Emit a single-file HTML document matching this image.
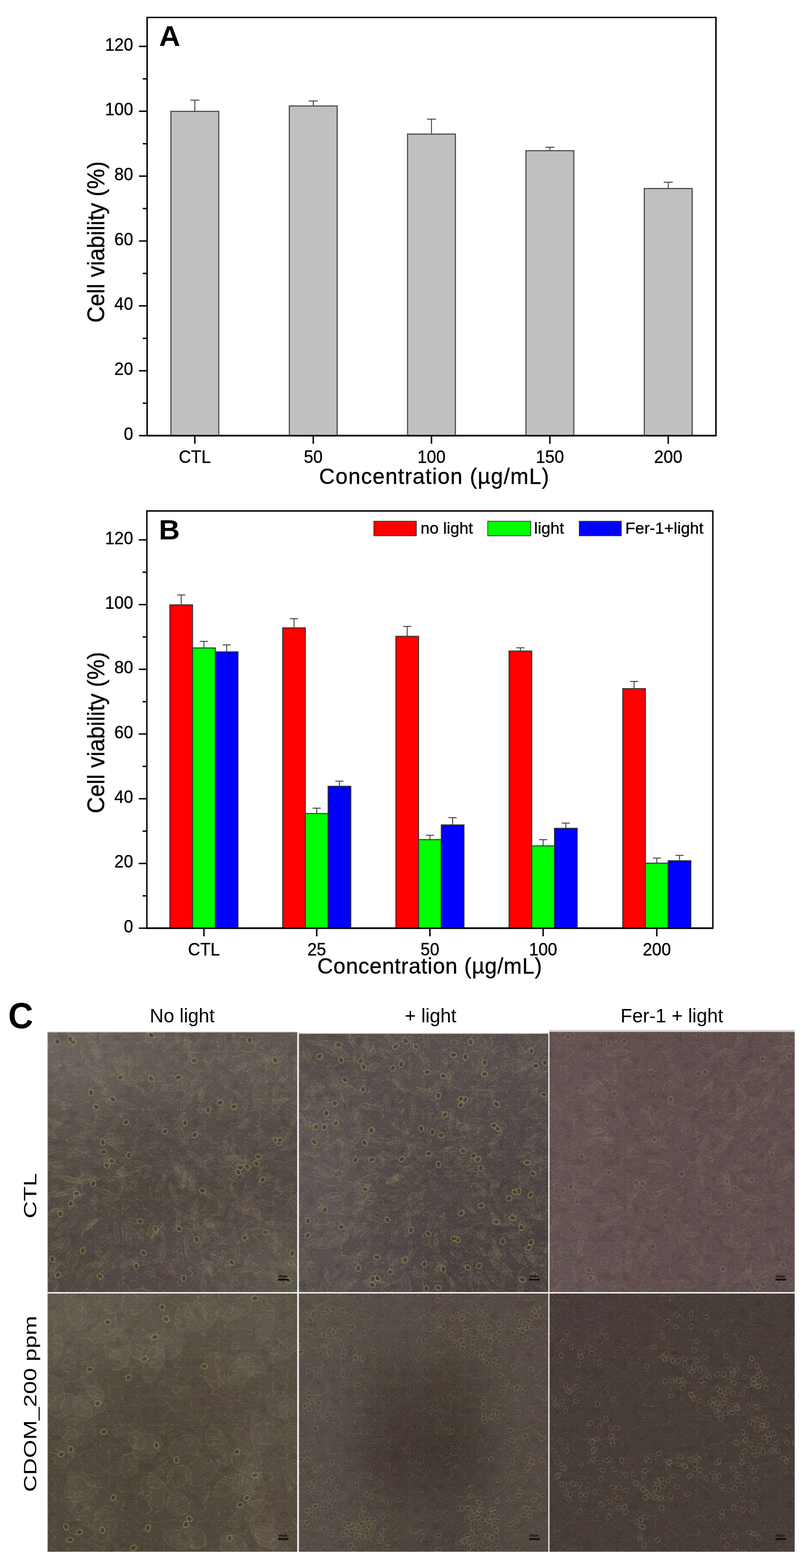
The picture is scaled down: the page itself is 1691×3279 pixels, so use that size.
<!DOCTYPE html>
<html><head><meta charset="utf-8"><title>Figure</title>
<style>
html,body{margin:0;padding:0;background:#fff;}
body{width:1691px;height:3279px;position:relative;overflow:hidden;font-family:"Liberation Sans", Arial, sans-serif;}
svg text{font-family:"Liberation Sans", Arial, sans-serif;fill:#000;}
.tk,.ttl,.lg{stroke:#000;stroke-width:0.45px;}
.tk{font-size:37px;}
.ttl{font-size:47.5px;}
.pl{font-size:57px;font-weight:bold;}
.lg{font-size:34px;}
.cl{font-size:40px;}
.rl{font-size:36.5px;}
</style></head>
<body>
<svg width="1691" height="3279" viewBox="0 0 1691 3279" style="position:absolute;left:0;top:0">
<rect x="307.5" y="36.5" width="1189" height="874.5" fill="none" stroke="#000" stroke-width="3"/>
<line x1="290.5" y1="911" x2="307.5" y2="911" stroke="#000" stroke-width="3"/>
<text transform="translate(278.3,919.7) scale(0.955,1)" text-anchor="end" class="tk">0</text>
<line x1="298.5" y1="843.16" x2="307.5" y2="843.16" stroke="#000" stroke-width="3"/>
<line x1="290.5" y1="775.33" x2="307.5" y2="775.33" stroke="#000" stroke-width="3"/>
<text transform="translate(278.3,784.03) scale(0.955,1)" text-anchor="end" class="tk">20</text>
<line x1="298.5" y1="707.5" x2="307.5" y2="707.5" stroke="#000" stroke-width="3"/>
<line x1="290.5" y1="639.66" x2="307.5" y2="639.66" stroke="#000" stroke-width="3"/>
<text transform="translate(278.3,648.36) scale(0.955,1)" text-anchor="end" class="tk">40</text>
<line x1="298.5" y1="571.83" x2="307.5" y2="571.83" stroke="#000" stroke-width="3"/>
<line x1="290.5" y1="503.99" x2="307.5" y2="503.99" stroke="#000" stroke-width="3"/>
<text transform="translate(278.3,512.69) scale(0.955,1)" text-anchor="end" class="tk">60</text>
<line x1="298.5" y1="436.16" x2="307.5" y2="436.16" stroke="#000" stroke-width="3"/>
<line x1="290.5" y1="368.32" x2="307.5" y2="368.32" stroke="#000" stroke-width="3"/>
<text transform="translate(278.3,377.02) scale(0.955,1)" text-anchor="end" class="tk">80</text>
<line x1="298.5" y1="300.49" x2="307.5" y2="300.49" stroke="#000" stroke-width="3"/>
<line x1="290.5" y1="232.65" x2="307.5" y2="232.65" stroke="#000" stroke-width="3"/>
<text transform="translate(278.3,241.35) scale(0.955,1)" text-anchor="end" class="tk">100</text>
<line x1="298.5" y1="164.82" x2="307.5" y2="164.82" stroke="#000" stroke-width="3"/>
<line x1="290.5" y1="96.98" x2="307.5" y2="96.98" stroke="#000" stroke-width="3"/>
<text transform="translate(278.3,105.68) scale(0.955,1)" text-anchor="end" class="tk">120</text>
<line x1="407.2" y1="209.4" x2="407.2" y2="232.9" stroke="#444" stroke-width="2"/>
<line x1="397.7" y1="209.4" x2="416.7" y2="209.4" stroke="#444" stroke-width="2"/>
<rect x="357.2" y="232.9" width="100" height="678.1" fill="#c0c0c0" stroke="#4c4c4c" stroke-width="2.4"/>
<line x1="407.2" y1="911" x2="407.2" y2="928" stroke="#000" stroke-width="3"/>
<text transform="translate(407.2,968.3) scale(0.955,1)" text-anchor="middle" class="tk">CTL</text>
<line x1="654.8" y1="211.2" x2="654.8" y2="221.6" stroke="#444" stroke-width="2"/>
<line x1="645.3" y1="211.2" x2="664.3" y2="211.2" stroke="#444" stroke-width="2"/>
<rect x="604.8" y="221.6" width="100" height="689.4" fill="#c0c0c0" stroke="#4c4c4c" stroke-width="2.4"/>
<line x1="654.8" y1="911" x2="654.8" y2="928" stroke="#000" stroke-width="3"/>
<text transform="translate(654.8,968.3) scale(0.955,1)" text-anchor="middle" class="tk">50</text>
<line x1="901.9" y1="249.2" x2="901.9" y2="280.4" stroke="#444" stroke-width="2"/>
<line x1="892.4" y1="249.2" x2="911.4" y2="249.2" stroke="#444" stroke-width="2"/>
<rect x="851.9" y="280.4" width="100" height="630.6" fill="#c0c0c0" stroke="#4c4c4c" stroke-width="2.4"/>
<line x1="901.9" y1="911" x2="901.9" y2="928" stroke="#000" stroke-width="3"/>
<text transform="translate(901.9,968.3) scale(0.955,1)" text-anchor="middle" class="tk">100</text>
<line x1="1149.4" y1="307.9" x2="1149.4" y2="315.1" stroke="#444" stroke-width="2"/>
<line x1="1139.9" y1="307.9" x2="1158.9" y2="307.9" stroke="#444" stroke-width="2"/>
<rect x="1099.4" y="315.1" width="100" height="595.9" fill="#c0c0c0" stroke="#4c4c4c" stroke-width="2.4"/>
<line x1="1149.4" y1="911" x2="1149.4" y2="928" stroke="#000" stroke-width="3"/>
<text transform="translate(1149.4,968.3) scale(0.955,1)" text-anchor="middle" class="tk">150</text>
<line x1="1396.8" y1="381" x2="1396.8" y2="394.2" stroke="#444" stroke-width="2"/>
<line x1="1387.3" y1="381" x2="1406.3" y2="381" stroke="#444" stroke-width="2"/>
<rect x="1346.8" y="394.2" width="100" height="516.8" fill="#c0c0c0" stroke="#4c4c4c" stroke-width="2.4"/>
<line x1="1396.8" y1="911" x2="1396.8" y2="928" stroke="#000" stroke-width="3"/>
<text transform="translate(1396.8,968.3) scale(0.955,1)" text-anchor="middle" class="tk">200</text>
<line x1="307.5" y1="911" x2="1496.5" y2="911" stroke="#000" stroke-width="3"/>
<text x="908.1" y="1011.5" text-anchor="middle" class="ttl" style="font-size:45.5px;letter-spacing:1.35px">Concentration (µg/mL)</text>
<text transform="translate(218,506) rotate(-90) scale(0.95,1)" text-anchor="middle" class="ttl" style="font-size:50px">Cell viability (%)</text>
<text transform="translate(332.5,95.7) scale(1.05,1)" class="pl" style="font-size:58.5px">A</text>
<rect x="307" y="1068.5" width="1183" height="872.5" fill="none" stroke="#000" stroke-width="3"/>
<line x1="290" y1="1941" x2="307" y2="1941" stroke="#000" stroke-width="3"/>
<text transform="translate(278.3,1949.7) scale(0.955,1)" text-anchor="end" class="tk">0</text>
<line x1="298" y1="1873.34" x2="307" y2="1873.34" stroke="#000" stroke-width="3"/>
<line x1="290" y1="1805.67" x2="307" y2="1805.67" stroke="#000" stroke-width="3"/>
<text transform="translate(278.3,1814.37) scale(0.955,1)" text-anchor="end" class="tk">20</text>
<line x1="298" y1="1738.01" x2="307" y2="1738.01" stroke="#000" stroke-width="3"/>
<line x1="290" y1="1670.34" x2="307" y2="1670.34" stroke="#000" stroke-width="3"/>
<text transform="translate(278.3,1679.04) scale(0.955,1)" text-anchor="end" class="tk">40</text>
<line x1="298" y1="1602.67" x2="307" y2="1602.67" stroke="#000" stroke-width="3"/>
<line x1="290" y1="1535.01" x2="307" y2="1535.01" stroke="#000" stroke-width="3"/>
<text transform="translate(278.3,1543.71) scale(0.955,1)" text-anchor="end" class="tk">60</text>
<line x1="298" y1="1467.35" x2="307" y2="1467.35" stroke="#000" stroke-width="3"/>
<line x1="290" y1="1399.68" x2="307" y2="1399.68" stroke="#000" stroke-width="3"/>
<text transform="translate(278.3,1408.38) scale(0.955,1)" text-anchor="end" class="tk">80</text>
<line x1="298" y1="1332.01" x2="307" y2="1332.01" stroke="#000" stroke-width="3"/>
<line x1="290" y1="1264.35" x2="307" y2="1264.35" stroke="#000" stroke-width="3"/>
<text transform="translate(278.3,1273.05) scale(0.955,1)" text-anchor="end" class="tk">100</text>
<line x1="298" y1="1196.68" x2="307" y2="1196.68" stroke="#000" stroke-width="3"/>
<line x1="290" y1="1129.02" x2="307" y2="1129.02" stroke="#000" stroke-width="3"/>
<text transform="translate(278.3,1137.72) scale(0.955,1)" text-anchor="end" class="tk">120</text>
<line x1="378.75" y1="1244.2" x2="378.75" y2="1264.8" stroke="#444" stroke-width="2"/>
<line x1="370.25" y1="1244.2" x2="387.25" y2="1244.2" stroke="#444" stroke-width="2"/>
<rect x="355" y="1264.8" width="47.5" height="676.2" fill="#ff0000" stroke="#333" stroke-width="2"/>
<line x1="426.25" y1="1341.3" x2="426.25" y2="1354.9" stroke="#444" stroke-width="2"/>
<line x1="417.75" y1="1341.3" x2="434.75" y2="1341.3" stroke="#444" stroke-width="2"/>
<rect x="402.5" y="1354.9" width="47.5" height="586.1" fill="#00ff00" stroke="#333" stroke-width="2"/>
<line x1="473.75" y1="1348.6" x2="473.75" y2="1363.1" stroke="#444" stroke-width="2"/>
<line x1="465.25" y1="1348.6" x2="482.25" y2="1348.6" stroke="#444" stroke-width="2"/>
<rect x="450" y="1363.1" width="47.5" height="577.9" fill="#0000ff" stroke="#333" stroke-width="2"/>
<line x1="426.25" y1="1941" x2="426.25" y2="1958" stroke="#000" stroke-width="3"/>
<text transform="translate(426.25,1998.3) scale(0.955,1)" text-anchor="middle" class="tk">CTL</text>
<line x1="614.55" y1="1293.9" x2="614.55" y2="1312.9" stroke="#444" stroke-width="2"/>
<line x1="606.05" y1="1293.9" x2="623.05" y2="1293.9" stroke="#444" stroke-width="2"/>
<rect x="590.8" y="1312.9" width="47.5" height="628.1" fill="#ff0000" stroke="#333" stroke-width="2"/>
<line x1="662.05" y1="1690" x2="662.05" y2="1701.2" stroke="#444" stroke-width="2"/>
<line x1="653.55" y1="1690" x2="670.55" y2="1690" stroke="#444" stroke-width="2"/>
<rect x="638.3" y="1701.2" width="47.5" height="239.8" fill="#00ff00" stroke="#333" stroke-width="2"/>
<line x1="709.55" y1="1633.6" x2="709.55" y2="1644.2" stroke="#444" stroke-width="2"/>
<line x1="701.05" y1="1633.6" x2="718.05" y2="1633.6" stroke="#444" stroke-width="2"/>
<rect x="685.8" y="1644.2" width="47.5" height="296.8" fill="#0000ff" stroke="#333" stroke-width="2"/>
<line x1="662.05" y1="1941" x2="662.05" y2="1958" stroke="#000" stroke-width="3"/>
<text transform="translate(662.05,1998.3) scale(0.955,1)" text-anchor="middle" class="tk">25</text>
<line x1="851.15" y1="1310" x2="851.15" y2="1330.6" stroke="#444" stroke-width="2"/>
<line x1="842.65" y1="1310" x2="859.65" y2="1310" stroke="#444" stroke-width="2"/>
<rect x="827.4" y="1330.6" width="47.5" height="610.4" fill="#ff0000" stroke="#333" stroke-width="2"/>
<line x1="898.65" y1="1746.7" x2="898.65" y2="1755.8" stroke="#444" stroke-width="2"/>
<line x1="890.15" y1="1746.7" x2="907.15" y2="1746.7" stroke="#444" stroke-width="2"/>
<rect x="874.9" y="1755.8" width="47.5" height="185.2" fill="#00ff00" stroke="#333" stroke-width="2"/>
<line x1="946.15" y1="1710" x2="946.15" y2="1725" stroke="#444" stroke-width="2"/>
<line x1="937.65" y1="1710" x2="954.65" y2="1710" stroke="#444" stroke-width="2"/>
<rect x="922.4" y="1725" width="47.5" height="216" fill="#0000ff" stroke="#333" stroke-width="2"/>
<line x1="898.65" y1="1941" x2="898.65" y2="1958" stroke="#000" stroke-width="3"/>
<text transform="translate(898.65,1998.3) scale(0.955,1)" text-anchor="middle" class="tk">50</text>
<line x1="1087.75" y1="1354.6" x2="1087.75" y2="1361.4" stroke="#444" stroke-width="2"/>
<line x1="1079.25" y1="1354.6" x2="1096.25" y2="1354.6" stroke="#444" stroke-width="2"/>
<rect x="1064" y="1361.4" width="47.5" height="579.6" fill="#ff0000" stroke="#333" stroke-width="2"/>
<line x1="1135.25" y1="1755.9" x2="1135.25" y2="1768.9" stroke="#444" stroke-width="2"/>
<line x1="1126.75" y1="1755.9" x2="1143.75" y2="1755.9" stroke="#444" stroke-width="2"/>
<rect x="1111.5" y="1768.9" width="47.5" height="172.1" fill="#00ff00" stroke="#333" stroke-width="2"/>
<line x1="1182.75" y1="1721.3" x2="1182.75" y2="1732.1" stroke="#444" stroke-width="2"/>
<line x1="1174.25" y1="1721.3" x2="1191.25" y2="1721.3" stroke="#444" stroke-width="2"/>
<rect x="1159" y="1732.1" width="47.5" height="208.9" fill="#0000ff" stroke="#333" stroke-width="2"/>
<line x1="1135.25" y1="1941" x2="1135.25" y2="1958" stroke="#000" stroke-width="3"/>
<text transform="translate(1135.25,1998.3) scale(0.955,1)" text-anchor="middle" class="tk">100</text>
<line x1="1325.35" y1="1425" x2="1325.35" y2="1440" stroke="#444" stroke-width="2"/>
<line x1="1316.85" y1="1425" x2="1333.85" y2="1425" stroke="#444" stroke-width="2"/>
<rect x="1301.6" y="1440" width="47.5" height="501" fill="#ff0000" stroke="#333" stroke-width="2"/>
<line x1="1372.85" y1="1794.5" x2="1372.85" y2="1805" stroke="#444" stroke-width="2"/>
<line x1="1364.35" y1="1794.5" x2="1381.35" y2="1794.5" stroke="#444" stroke-width="2"/>
<rect x="1349.1" y="1805" width="47.5" height="136" fill="#00ff00" stroke="#333" stroke-width="2"/>
<line x1="1420.35" y1="1788.7" x2="1420.35" y2="1799.9" stroke="#444" stroke-width="2"/>
<line x1="1411.85" y1="1788.7" x2="1428.85" y2="1788.7" stroke="#444" stroke-width="2"/>
<rect x="1396.6" y="1799.9" width="47.5" height="141.1" fill="#0000ff" stroke="#333" stroke-width="2"/>
<line x1="1372.85" y1="1941" x2="1372.85" y2="1958" stroke="#000" stroke-width="3"/>
<text transform="translate(1372.85,1998.3) scale(0.955,1)" text-anchor="middle" class="tk">200</text>
<line x1="307" y1="1941" x2="1490" y2="1941" stroke="#000" stroke-width="3"/>
<text x="898.4" y="2036" text-anchor="middle" class="ttl" style="font-size:45.5px;letter-spacing:0.8px">Concentration (µg/mL)</text>
<text transform="translate(217.5,1532) rotate(-90) scale(0.95,1)" text-anchor="middle" class="ttl" style="font-size:50px">Cell viability (%)</text>
<text transform="translate(332,1128.1) scale(1.05,1)" class="pl" style="font-size:58px">B</text>
<rect x="781.4" y="1090" width="88.9" height="30.5" fill="#ff0000" stroke="#333" stroke-width="1.5"/>
<text x="879" y="1116.2" class="lg">no light</text>
<rect x="1019.4" y="1090" width="90" height="30.5" fill="#00ff00" stroke="#333" stroke-width="1.5"/>
<text x="1116.5" y="1116.2" class="lg">light</text>
<rect x="1210.8" y="1090" width="88" height="30.5" fill="#0000ff" stroke="#333" stroke-width="1.5"/>
<text x="1307" y="1116.2" class="lg">Fer-1+light</text>
<defs><filter id="lines" x="0" y="0" width="1" height="1" color-interpolation-filters="sRGB"><feTurbulence type="turbulence" baseFrequency="0.035 0.05" numOctaves="3" seed="7"/><feColorMatrix type="matrix" values="0 0 0 0 0.78 0 0 0 0 0.74 0 0 0 0 0.5 -7 0 0 0 1.15"/></filter><filter id="dark" x="0" y="0" width="1" height="1" color-interpolation-filters="sRGB"><feTurbulence type="fractalNoise" baseFrequency="0.05" numOctaves="3" seed="11"/><feColorMatrix type="matrix" values="0 0 0 0 0.15 0 0 0 0 0.13 0 0 0 0 0.12 4 0 0 0 -2.2"/></filter><g id="cb"><ellipse rx="5" ry="6.5" fill="#3a342e" fill-opacity="0.5" stroke="#aaa262" stroke-opacity="0.5" stroke-width="2.2"/></g><g id="cs"><ellipse rx="4" ry="6" fill="#3a322e" fill-opacity="0.22" stroke="#a09462" stroke-opacity="0.3" stroke-width="1.7"/></g><g id="cf"><ellipse rx="5" ry="6" fill="#4a3c42" fill-opacity="0.3" stroke="#a89a70" stroke-opacity="0.35" stroke-width="1.8"/></g><filter id="grain" filterUnits="objectBoundingBox" x="0" y="0" width="1" height="1" color-interpolation-filters="sRGB"><feTurbulence type="fractalNoise" baseFrequency="0.3" numOctaves="2" seed="5" result="n"/><feColorMatrix in="n" type="matrix" values="0.6 0 0 0.4 0 0 0.6 0 0.4 0 0 0 0.6 0.4 0 0 0 0 0 1" result="n2"/><feComposite in="SourceGraphic" in2="n2" operator="arithmetic" k1="0" k2="1" k3="0.2" k4="-0.1"/></filter><filter id="soft" x="-0.05" y="-0.05" width="1.1" height="1.1"><feGaussianBlur stdDeviation="0.7"/></filter><filter id="bl" filterUnits="userSpaceOnUse" x="0" y="2000" width="1691" height="1279"><feGaussianBlur stdDeviation="42"/></filter><clipPath id="cp0"><rect x="98" y="2158" width="523" height="544"/></clipPath><clipPath id="cp1"><rect x="625" y="2160" width="521" height="542"/></clipPath><clipPath id="cp2"><rect x="1148" y="2155.5" width="513" height="546.5"/></clipPath><clipPath id="cp3"><rect x="98" y="2705" width="523" height="539.5"/></clipPath><clipPath id="cp4"><rect x="625" y="2705" width="521" height="539.5"/></clipPath><clipPath id="cp5"><rect x="1148" y="2705" width="513" height="539.5"/></clipPath></defs>
<g clip-path="url(#cp0)"><g filter="url(#grain)"><g filter="url(#bl)"><rect x="8.0" y="2068.0" width="221.2" height="226.5" fill="#6b635d"/><rect x="228.8" y="2068.0" width="131.2" height="226.5" fill="#655d57"/><rect x="359.5" y="2068.0" width="131.2" height="226.5" fill="#615953"/><rect x="490.2" y="2068.0" width="221.2" height="226.5" fill="#605852"/><rect x="8.0" y="2294.0" width="221.2" height="136.5" fill="#5a524c"/><rect x="228.8" y="2294.0" width="131.2" height="136.5" fill="#544c46"/><rect x="359.5" y="2294.0" width="131.2" height="136.5" fill="#564e48"/><rect x="490.2" y="2294.0" width="221.2" height="136.5" fill="#554d47"/><rect x="8.0" y="2430.0" width="221.2" height="136.5" fill="#534b45"/><rect x="228.8" y="2430.0" width="131.2" height="136.5" fill="#4f4741"/><rect x="359.5" y="2430.0" width="131.2" height="136.5" fill="#514943"/><rect x="490.2" y="2430.0" width="221.2" height="136.5" fill="#524a44"/><rect x="8.0" y="2566.0" width="221.2" height="226.5" fill="#514943"/><rect x="228.8" y="2566.0" width="131.2" height="226.5" fill="#524a44"/><rect x="359.5" y="2566.0" width="131.2" height="226.5" fill="#564e48"/><rect x="490.2" y="2566.0" width="221.2" height="226.5" fill="#5c544e"/></g><rect x="98" y="2158" width="523" height="544" filter="url(#lines)" opacity="0.18"/><g fill="#d0c8a0" fill-opacity="0.035" stroke="#b8ae7c" stroke-width="1.5" stroke-opacity="0.15" filter="url(#soft)"><ellipse cx="174" cy="2405" rx="5" ry="17" transform="rotate(105 174 2405)"/><ellipse cx="516" cy="2448" rx="3" ry="17" transform="rotate(42 516 2448)"/><ellipse cx="123" cy="2666" rx="4" ry="21" transform="rotate(75 123 2666)"/><ellipse cx="205" cy="2255" rx="4" ry="16" transform="rotate(128 205 2255)"/><ellipse cx="426" cy="2682" rx="5" ry="23" transform="rotate(7 426 2682)"/><ellipse cx="526" cy="2245" rx="5" ry="13" transform="rotate(127 526 2245)"/><ellipse cx="101" cy="2373" rx="4" ry="22" transform="rotate(109 101 2373)"/><ellipse cx="576" cy="2287" rx="4" ry="19" transform="rotate(12 576 2287)"/><ellipse cx="570" cy="2227" rx="5" ry="20" transform="rotate(139 570 2227)"/><ellipse cx="503" cy="2434" rx="4" ry="19" transform="rotate(61 503 2434)"/><ellipse cx="374" cy="2345" rx="4" ry="21" transform="rotate(30 374 2345)"/><ellipse cx="524" cy="2642" rx="5" ry="14" transform="rotate(116 524 2642)"/><ellipse cx="541" cy="2653" rx="5" ry="17" transform="rotate(128 541 2653)"/><ellipse cx="403" cy="2238" rx="5" ry="22" transform="rotate(134 403 2238)"/><ellipse cx="184" cy="2568" rx="3" ry="19" transform="rotate(47 184 2568)"/><ellipse cx="213" cy="2327" rx="5" ry="19" transform="rotate(108 213 2327)"/><ellipse cx="490" cy="2467" rx="3" ry="14" transform="rotate(103 490 2467)"/><ellipse cx="373" cy="2550" rx="4" ry="16" transform="rotate(179 373 2550)"/><ellipse cx="588" cy="2376" rx="5" ry="17" transform="rotate(66 588 2376)"/><ellipse cx="383" cy="2539" rx="3" ry="21" transform="rotate(121 383 2539)"/><ellipse cx="555" cy="2184" rx="3" ry="13" transform="rotate(47 555 2184)"/><ellipse cx="433" cy="2225" rx="3" ry="23" transform="rotate(45 433 2225)"/><ellipse cx="308" cy="2452" rx="4" ry="14" transform="rotate(35 308 2452)"/><ellipse cx="401" cy="2295" rx="3" ry="14" transform="rotate(22 401 2295)"/><ellipse cx="314" cy="2664" rx="4" ry="14" transform="rotate(111 314 2664)"/><ellipse cx="470" cy="2262" rx="6" ry="16" transform="rotate(156 470 2262)"/><ellipse cx="240" cy="2306" rx="6" ry="18" transform="rotate(109 240 2306)"/><ellipse cx="219" cy="2163" rx="3" ry="15" transform="rotate(50 219 2163)"/><ellipse cx="434" cy="2499" rx="4" ry="20" transform="rotate(172 434 2499)"/><ellipse cx="330" cy="2554" rx="4" ry="24" transform="rotate(141 330 2554)"/><ellipse cx="110" cy="2494" rx="3" ry="23" transform="rotate(38 110 2494)"/><ellipse cx="100" cy="2558" rx="5" ry="18" transform="rotate(114 100 2558)"/><ellipse cx="189" cy="2366" rx="3" ry="22" transform="rotate(88 189 2366)"/><ellipse cx="385" cy="2305" rx="5" ry="19" transform="rotate(20 385 2305)"/><ellipse cx="169" cy="2476" rx="4" ry="22" transform="rotate(62 169 2476)"/><ellipse cx="401" cy="2279" rx="4" ry="17" transform="rotate(7 401 2279)"/><ellipse cx="468" cy="2626" rx="4" ry="11" transform="rotate(160 468 2626)"/><ellipse cx="179" cy="2216" rx="3" ry="19" transform="rotate(145 179 2216)"/><ellipse cx="148" cy="2466" rx="5" ry="19" transform="rotate(99 148 2466)"/><ellipse cx="187" cy="2675" rx="5" ry="16" transform="rotate(31 187 2675)"/><ellipse cx="563" cy="2215" rx="3" ry="23" transform="rotate(77 563 2215)"/><ellipse cx="508" cy="2656" rx="4" ry="21" transform="rotate(88 508 2656)"/><ellipse cx="506" cy="2347" rx="5" ry="18" transform="rotate(66 506 2347)"/><ellipse cx="163" cy="2501" rx="3" ry="17" transform="rotate(71 163 2501)"/><ellipse cx="365" cy="2269" rx="6" ry="19" transform="rotate(74 365 2269)"/><ellipse cx="113" cy="2444" rx="6" ry="21" transform="rotate(109 113 2444)"/><ellipse cx="458" cy="2180" rx="6" ry="11" transform="rotate(179 458 2180)"/><ellipse cx="214" cy="2637" rx="3" ry="15" transform="rotate(23 214 2637)"/><ellipse cx="258" cy="2638" rx="4" ry="12" transform="rotate(179 258 2638)"/><ellipse cx="278" cy="2575" rx="5" ry="23" transform="rotate(133 278 2575)"/><ellipse cx="471" cy="2203" rx="4" ry="20" transform="rotate(17 471 2203)"/><ellipse cx="330" cy="2570" rx="3" ry="23" transform="rotate(34 330 2570)"/><ellipse cx="183" cy="2562" rx="5" ry="24" transform="rotate(59 183 2562)"/><ellipse cx="102" cy="2428" rx="4" ry="16" transform="rotate(82 102 2428)"/><ellipse cx="200" cy="2256" rx="4" ry="23" transform="rotate(135 200 2256)"/><ellipse cx="594" cy="2299" rx="3" ry="14" transform="rotate(85 594 2299)"/><ellipse cx="546" cy="2254" rx="4" ry="13" transform="rotate(39 546 2254)"/><ellipse cx="420" cy="2359" rx="5" ry="18" transform="rotate(28 420 2359)"/><ellipse cx="309" cy="2170" rx="4" ry="24" transform="rotate(174 309 2170)"/><ellipse cx="511" cy="2351" rx="6" ry="14" transform="rotate(54 511 2351)"/><ellipse cx="402" cy="2471" rx="4" ry="15" transform="rotate(129 402 2471)"/><ellipse cx="579" cy="2559" rx="4" ry="21" transform="rotate(92 579 2559)"/><ellipse cx="421" cy="2292" rx="4" ry="12" transform="rotate(8 421 2292)"/><ellipse cx="140" cy="2493" rx="5" ry="22" transform="rotate(74 140 2493)"/><ellipse cx="213" cy="2674" rx="5" ry="17" transform="rotate(4 213 2674)"/><ellipse cx="459" cy="2643" rx="5" ry="18" transform="rotate(21 459 2643)"/><ellipse cx="549" cy="2564" rx="4" ry="12" transform="rotate(57 549 2564)"/><ellipse cx="602" cy="2671" rx="5" ry="21" transform="rotate(24 602 2671)"/><ellipse cx="462" cy="2212" rx="6" ry="17" transform="rotate(39 462 2212)"/><ellipse cx="243" cy="2577" rx="5" ry="22" transform="rotate(171 243 2577)"/><ellipse cx="120" cy="2530" rx="3" ry="17" transform="rotate(86 120 2530)"/><ellipse cx="440" cy="2501" rx="5" ry="15" transform="rotate(120 440 2501)"/><ellipse cx="470" cy="2696" rx="6" ry="13" transform="rotate(122 470 2696)"/><ellipse cx="392" cy="2615" rx="5" ry="21" transform="rotate(169 392 2615)"/><ellipse cx="454" cy="2403" rx="4" ry="17" transform="rotate(76 454 2403)"/><ellipse cx="473" cy="2314" rx="4" ry="17" transform="rotate(44 473 2314)"/><ellipse cx="431" cy="2446" rx="4" ry="19" transform="rotate(130 431 2446)"/><ellipse cx="302" cy="2172" rx="4" ry="12" transform="rotate(139 302 2172)"/><ellipse cx="432" cy="2649" rx="3" ry="22" transform="rotate(152 432 2649)"/><ellipse cx="497" cy="2289" rx="4" ry="13" transform="rotate(137 497 2289)"/><ellipse cx="260" cy="2443" rx="5" ry="20" transform="rotate(56 260 2443)"/><ellipse cx="159" cy="2468" rx="5" ry="11" transform="rotate(102 159 2468)"/><ellipse cx="489" cy="2169" rx="3" ry="12" transform="rotate(175 489 2169)"/><ellipse cx="448" cy="2303" rx="5" ry="13" transform="rotate(50 448 2303)"/><ellipse cx="420" cy="2667" rx="6" ry="16" transform="rotate(166 420 2667)"/><ellipse cx="244" cy="2388" rx="6" ry="16" transform="rotate(77 244 2388)"/><ellipse cx="250" cy="2453" rx="5" ry="20" transform="rotate(39 250 2453)"/><ellipse cx="313" cy="2396" rx="6" ry="17" transform="rotate(81 313 2396)"/><ellipse cx="496" cy="2353" rx="5" ry="16" transform="rotate(95 496 2353)"/><ellipse cx="208" cy="2246" rx="3" ry="20" transform="rotate(143 208 2246)"/><ellipse cx="374" cy="2602" rx="5" ry="23" transform="rotate(33 374 2602)"/><ellipse cx="576" cy="2604" rx="6" ry="16" transform="rotate(85 576 2604)"/><ellipse cx="619" cy="2644" rx="5" ry="18" transform="rotate(156 619 2644)"/><ellipse cx="369" cy="2665" rx="4" ry="19" transform="rotate(115 369 2665)"/><ellipse cx="586" cy="2302" rx="4" ry="18" transform="rotate(77 586 2302)"/><ellipse cx="220" cy="2290" rx="3" ry="17" transform="rotate(160 220 2290)"/><ellipse cx="172" cy="2350" rx="5" ry="14" transform="rotate(136 172 2350)"/><ellipse cx="621" cy="2313" rx="6" ry="15" transform="rotate(110 621 2313)"/><ellipse cx="392" cy="2479" rx="5" ry="19" transform="rotate(119 392 2479)"/><ellipse cx="391" cy="2420" rx="4" ry="16" transform="rotate(58 391 2420)"/><ellipse cx="482" cy="2544" rx="6" ry="15" transform="rotate(9 482 2544)"/><ellipse cx="243" cy="2700" rx="4" ry="19" transform="rotate(22 243 2700)"/><ellipse cx="552" cy="2226" rx="4" ry="12" transform="rotate(72 552 2226)"/><ellipse cx="471" cy="2458" rx="4" ry="19" transform="rotate(131 471 2458)"/><ellipse cx="258" cy="2373" rx="4" ry="19" transform="rotate(93 258 2373)"/><ellipse cx="385" cy="2467" rx="3" ry="21" transform="rotate(9 385 2467)"/><ellipse cx="573" cy="2196" rx="5" ry="11" transform="rotate(40 573 2196)"/><ellipse cx="116" cy="2454" rx="5" ry="12" transform="rotate(39 116 2454)"/><ellipse cx="504" cy="2211" rx="5" ry="22" transform="rotate(82 504 2211)"/><ellipse cx="251" cy="2491" rx="3" ry="21" transform="rotate(22 251 2491)"/><ellipse cx="193" cy="2185" rx="5" ry="23" transform="rotate(147 193 2185)"/><ellipse cx="381" cy="2456" rx="5" ry="21" transform="rotate(129 381 2456)"/><ellipse cx="359" cy="2186" rx="4" ry="20" transform="rotate(56 359 2186)"/><ellipse cx="229" cy="2285" rx="3" ry="16" transform="rotate(133 229 2285)"/><ellipse cx="394" cy="2213" rx="3" ry="22" transform="rotate(23 394 2213)"/><ellipse cx="182" cy="2651" rx="5" ry="15" transform="rotate(71 182 2651)"/><ellipse cx="135" cy="2501" rx="6" ry="22" transform="rotate(102 135 2501)"/><ellipse cx="469" cy="2476" rx="5" ry="21" transform="rotate(124 469 2476)"/><ellipse cx="556" cy="2211" rx="5" ry="15" transform="rotate(118 556 2211)"/><ellipse cx="125" cy="2345" rx="3" ry="20" transform="rotate(52 125 2345)"/><ellipse cx="409" cy="2556" rx="5" ry="21" transform="rotate(179 409 2556)"/><ellipse cx="390" cy="2192" rx="6" ry="18" transform="rotate(165 390 2192)"/><ellipse cx="341" cy="2622" rx="5" ry="20" transform="rotate(12 341 2622)"/><ellipse cx="375" cy="2462" rx="5" ry="22" transform="rotate(160 375 2462)"/><ellipse cx="437" cy="2557" rx="5" ry="12" transform="rotate(128 437 2557)"/><ellipse cx="186" cy="2469" rx="4" ry="23" transform="rotate(76 186 2469)"/><ellipse cx="255" cy="2425" rx="4" ry="20" transform="rotate(118 255 2425)"/><ellipse cx="483" cy="2403" rx="3" ry="24" transform="rotate(140 483 2403)"/><ellipse cx="117" cy="2607" rx="4" ry="17" transform="rotate(74 117 2607)"/><ellipse cx="406" cy="2526" rx="5" ry="12" transform="rotate(5 406 2526)"/><ellipse cx="292" cy="2261" rx="6" ry="14" transform="rotate(21 292 2261)"/><ellipse cx="456" cy="2441" rx="4" ry="13" transform="rotate(88 456 2441)"/><ellipse cx="414" cy="2642" rx="6" ry="14" transform="rotate(123 414 2642)"/><ellipse cx="282" cy="2638" rx="3" ry="11" transform="rotate(22 282 2638)"/><ellipse cx="445" cy="2420" rx="4" ry="20" transform="rotate(121 445 2420)"/><ellipse cx="330" cy="2500" rx="4" ry="12" transform="rotate(177 330 2500)"/><ellipse cx="574" cy="2616" rx="5" ry="20" transform="rotate(141 574 2616)"/><ellipse cx="333" cy="2620" rx="5" ry="22" transform="rotate(22 333 2620)"/><ellipse cx="576" cy="2598" rx="3" ry="23" transform="rotate(178 576 2598)"/><ellipse cx="529" cy="2488" rx="4" ry="20" transform="rotate(110 529 2488)"/><ellipse cx="253" cy="2533" rx="4" ry="21" transform="rotate(55 253 2533)"/><ellipse cx="192" cy="2349" rx="5" ry="18" transform="rotate(113 192 2349)"/><ellipse cx="235" cy="2376" rx="6" ry="14" transform="rotate(86 235 2376)"/><ellipse cx="267" cy="2642" rx="4" ry="19" transform="rotate(55 267 2642)"/><ellipse cx="552" cy="2213" rx="4" ry="12" transform="rotate(50 552 2213)"/><ellipse cx="222" cy="2656" rx="6" ry="20" transform="rotate(49 222 2656)"/><ellipse cx="368" cy="2564" rx="5" ry="13" transform="rotate(24 368 2564)"/><ellipse cx="297" cy="2444" rx="5" ry="14" transform="rotate(69 297 2444)"/><ellipse cx="313" cy="2249" rx="4" ry="15" transform="rotate(125 313 2249)"/><ellipse cx="413" cy="2261" rx="6" ry="15" transform="rotate(66 413 2261)"/><ellipse cx="256" cy="2332" rx="4" ry="16" transform="rotate(97 256 2332)"/><ellipse cx="200" cy="2193" rx="6" ry="22" transform="rotate(157 200 2193)"/><ellipse cx="487" cy="2422" rx="3" ry="23" transform="rotate(104 487 2422)"/><ellipse cx="382" cy="2452" rx="5" ry="20" transform="rotate(131 382 2452)"/><ellipse cx="445" cy="2561" rx="5" ry="22" transform="rotate(86 445 2561)"/><ellipse cx="503" cy="2228" rx="4" ry="20" transform="rotate(30 503 2228)"/><ellipse cx="472" cy="2399" rx="4" ry="14" transform="rotate(14 472 2399)"/><ellipse cx="257" cy="2238" rx="5" ry="19" transform="rotate(112 257 2238)"/><ellipse cx="614" cy="2446" rx="5" ry="13" transform="rotate(95 614 2446)"/><ellipse cx="167" cy="2411" rx="5" ry="15" transform="rotate(112 167 2411)"/><ellipse cx="240" cy="2186" rx="5" ry="12" transform="rotate(35 240 2186)"/><ellipse cx="594" cy="2487" rx="5" ry="20" transform="rotate(90 594 2487)"/><ellipse cx="389" cy="2381" rx="4" ry="18" transform="rotate(33 389 2381)"/><ellipse cx="338" cy="2432" rx="5" ry="12" transform="rotate(70 338 2432)"/><ellipse cx="187" cy="2160" rx="3" ry="14" transform="rotate(122 187 2160)"/><ellipse cx="269" cy="2590" rx="5" ry="13" transform="rotate(166 269 2590)"/><ellipse cx="337" cy="2474" rx="4" ry="21" transform="rotate(33 337 2474)"/><ellipse cx="461" cy="2324" rx="4" ry="17" transform="rotate(22 461 2324)"/><ellipse cx="116" cy="2497" rx="6" ry="22" transform="rotate(80 116 2497)"/><ellipse cx="127" cy="2571" rx="5" ry="19" transform="rotate(35 127 2571)"/><ellipse cx="216" cy="2419" rx="6" ry="22" transform="rotate(140 216 2419)"/><ellipse cx="411" cy="2604" rx="4" ry="13" transform="rotate(149 411 2604)"/><ellipse cx="386" cy="2266" rx="5" ry="21" transform="rotate(4 386 2266)"/><ellipse cx="620" cy="2570" rx="5" ry="21" transform="rotate(132 620 2570)"/><ellipse cx="219" cy="2492" rx="4" ry="20" transform="rotate(110 219 2492)"/><ellipse cx="559" cy="2389" rx="4" ry="16" transform="rotate(51 559 2389)"/><ellipse cx="479" cy="2269" rx="3" ry="12" transform="rotate(58 479 2269)"/><ellipse cx="519" cy="2518" rx="6" ry="23" transform="rotate(26 519 2518)"/><ellipse cx="193" cy="2558" rx="3" ry="21" transform="rotate(46 193 2558)"/><ellipse cx="206" cy="2513" rx="4" ry="20" transform="rotate(113 206 2513)"/><ellipse cx="310" cy="2171" rx="6" ry="12" transform="rotate(160 310 2171)"/><ellipse cx="501" cy="2231" rx="4" ry="20" transform="rotate(61 501 2231)"/><ellipse cx="391" cy="2175" rx="5" ry="18" transform="rotate(1 391 2175)"/><ellipse cx="337" cy="2165" rx="4" ry="17" transform="rotate(24 337 2165)"/><ellipse cx="173" cy="2465" rx="3" ry="16" transform="rotate(101 173 2465)"/><ellipse cx="144" cy="2466" rx="5" ry="23" transform="rotate(108 144 2466)"/><ellipse cx="259" cy="2221" rx="4" ry="23" transform="rotate(107 259 2221)"/><ellipse cx="232" cy="2507" rx="3" ry="19" transform="rotate(91 232 2507)"/><ellipse cx="500" cy="2431" rx="6" ry="14" transform="rotate(81 500 2431)"/><ellipse cx="486" cy="2451" rx="6" ry="15" transform="rotate(144 486 2451)"/><ellipse cx="541" cy="2175" rx="4" ry="14" transform="rotate(46 541 2175)"/><ellipse cx="244" cy="2638" rx="4" ry="19" transform="rotate(25 244 2638)"/><ellipse cx="412" cy="2190" rx="5" ry="14" transform="rotate(21 412 2190)"/><ellipse cx="256" cy="2471" rx="6" ry="21" transform="rotate(158 256 2471)"/><ellipse cx="248" cy="2235" rx="4" ry="22" transform="rotate(146 248 2235)"/><ellipse cx="260" cy="2573" rx="5" ry="21" transform="rotate(174 260 2573)"/><ellipse cx="227" cy="2425" rx="3" ry="12" transform="rotate(114 227 2425)"/><ellipse cx="429" cy="2422" rx="5" ry="23" transform="rotate(66 429 2422)"/><ellipse cx="400" cy="2390" rx="3" ry="15" transform="rotate(85 400 2390)"/><ellipse cx="416" cy="2279" rx="6" ry="12" transform="rotate(164 416 2279)"/><ellipse cx="569" cy="2667" rx="5" ry="14" transform="rotate(114 569 2667)"/><ellipse cx="618" cy="2509" rx="5" ry="14" transform="rotate(129 618 2509)"/><ellipse cx="402" cy="2489" rx="5" ry="12" transform="rotate(137 402 2489)"/><ellipse cx="349" cy="2371" rx="5" ry="14" transform="rotate(114 349 2371)"/><ellipse cx="264" cy="2310" rx="6" ry="24" transform="rotate(108 264 2310)"/><ellipse cx="281" cy="2399" rx="3" ry="19" transform="rotate(7 281 2399)"/><ellipse cx="333" cy="2357" rx="5" ry="21" transform="rotate(74 333 2357)"/><ellipse cx="460" cy="2596" rx="5" ry="23" transform="rotate(54 460 2596)"/><ellipse cx="197" cy="2510" rx="5" ry="12" transform="rotate(33 197 2510)"/><ellipse cx="571" cy="2590" rx="3" ry="23" transform="rotate(131 571 2590)"/><ellipse cx="279" cy="2553" rx="5" ry="16" transform="rotate(94 279 2553)"/><ellipse cx="296" cy="2433" rx="3" ry="24" transform="rotate(105 296 2433)"/><ellipse cx="363" cy="2495" rx="5" ry="23" transform="rotate(158 363 2495)"/><ellipse cx="618" cy="2397" rx="4" ry="24" transform="rotate(74 618 2397)"/><ellipse cx="512" cy="2526" rx="4" ry="16" transform="rotate(92 512 2526)"/><ellipse cx="274" cy="2262" rx="5" ry="11" transform="rotate(89 274 2262)"/><ellipse cx="421" cy="2316" rx="5" ry="14" transform="rotate(11 421 2316)"/><ellipse cx="120" cy="2597" rx="3" ry="15" transform="rotate(66 120 2597)"/><ellipse cx="620" cy="2248" rx="5" ry="18" transform="rotate(1 620 2248)"/><ellipse cx="497" cy="2185" rx="4" ry="13" transform="rotate(17 497 2185)"/><ellipse cx="613" cy="2647" rx="5" ry="18" transform="rotate(142 613 2647)"/><ellipse cx="490" cy="2577" rx="3" ry="12" transform="rotate(1 490 2577)"/><ellipse cx="214" cy="2275" rx="4" ry="17" transform="rotate(159 214 2275)"/><ellipse cx="184" cy="2461" rx="5" ry="15" transform="rotate(99 184 2461)"/><ellipse cx="614" cy="2521" rx="5" ry="19" transform="rotate(148 614 2521)"/><ellipse cx="570" cy="2327" rx="4" ry="23" transform="rotate(51 570 2327)"/><ellipse cx="229" cy="2388" rx="6" ry="11" transform="rotate(107 229 2388)"/><ellipse cx="387" cy="2452" rx="6" ry="24" transform="rotate(139 387 2452)"/><ellipse cx="473" cy="2429" rx="5" ry="15" transform="rotate(109 473 2429)"/><ellipse cx="583" cy="2192" rx="5" ry="14" transform="rotate(30 583 2192)"/><ellipse cx="594" cy="2255" rx="4" ry="16" transform="rotate(53 594 2255)"/><ellipse cx="431" cy="2586" rx="4" ry="13" transform="rotate(151 431 2586)"/><ellipse cx="272" cy="2224" rx="4" ry="20" transform="rotate(179 272 2224)"/><ellipse cx="431" cy="2431" rx="4" ry="19" transform="rotate(61 431 2431)"/><ellipse cx="119" cy="2552" rx="3" ry="24" transform="rotate(58 119 2552)"/><ellipse cx="327" cy="2177" rx="6" ry="21" transform="rotate(22 327 2177)"/><ellipse cx="526" cy="2228" rx="5" ry="21" transform="rotate(50 526 2228)"/><ellipse cx="465" cy="2523" rx="6" ry="22" transform="rotate(9 465 2523)"/><ellipse cx="435" cy="2232" rx="4" ry="23" transform="rotate(160 435 2232)"/><ellipse cx="377" cy="2630" rx="6" ry="21" transform="rotate(168 377 2630)"/><ellipse cx="140" cy="2493" rx="3" ry="11" transform="rotate(39 140 2493)"/><ellipse cx="461" cy="2514" rx="5" ry="12" transform="rotate(175 461 2514)"/><ellipse cx="442" cy="2644" rx="4" ry="23" transform="rotate(7 442 2644)"/><ellipse cx="589" cy="2587" rx="4" ry="12" transform="rotate(91 589 2587)"/><ellipse cx="316" cy="2567" rx="4" ry="21" transform="rotate(25 316 2567)"/><ellipse cx="263" cy="2466" rx="4" ry="23" transform="rotate(103 263 2466)"/><ellipse cx="204" cy="2614" rx="6" ry="12" transform="rotate(176 204 2614)"/><ellipse cx="208" cy="2264" rx="4" ry="21" transform="rotate(173 208 2264)"/><ellipse cx="247" cy="2451" rx="4" ry="20" transform="rotate(109 247 2451)"/><ellipse cx="289" cy="2215" rx="4" ry="14" transform="rotate(12 289 2215)"/><ellipse cx="104" cy="2409" rx="5" ry="11" transform="rotate(50 104 2409)"/><ellipse cx="308" cy="2339" rx="6" ry="19" transform="rotate(113 308 2339)"/><ellipse cx="221" cy="2466" rx="5" ry="18" transform="rotate(97 221 2466)"/><ellipse cx="616" cy="2640" rx="4" ry="24" transform="rotate(81 616 2640)"/><ellipse cx="541" cy="2374" rx="5" ry="12" transform="rotate(65 541 2374)"/><ellipse cx="269" cy="2646" rx="6" ry="14" transform="rotate(26 269 2646)"/><ellipse cx="383" cy="2345" rx="5" ry="20" transform="rotate(8 383 2345)"/><ellipse cx="615" cy="2341" rx="3" ry="15" transform="rotate(31 615 2341)"/><ellipse cx="106" cy="2192" rx="5" ry="12" transform="rotate(159 106 2192)"/><ellipse cx="323" cy="2585" rx="5" ry="16" transform="rotate(18 323 2585)"/><ellipse cx="477" cy="2646" rx="5" ry="20" transform="rotate(2 477 2646)"/><ellipse cx="265" cy="2264" rx="5" ry="12" transform="rotate(132 265 2264)"/><ellipse cx="115" cy="2700" rx="4" ry="14" transform="rotate(9 115 2700)"/><ellipse cx="182" cy="2375" rx="5" ry="22" transform="rotate(99 182 2375)"/><ellipse cx="120" cy="2351" rx="6" ry="16" transform="rotate(113 120 2351)"/><ellipse cx="450" cy="2629" rx="5" ry="13" transform="rotate(113 450 2629)"/><ellipse cx="124" cy="2225" rx="4" ry="16" transform="rotate(59 124 2225)"/><ellipse cx="126" cy="2307" rx="4" ry="11" transform="rotate(72 126 2307)"/><ellipse cx="462" cy="2592" rx="6" ry="22" transform="rotate(114 462 2592)"/><ellipse cx="425" cy="2323" rx="5" ry="15" transform="rotate(99 425 2323)"/><ellipse cx="614" cy="2650" rx="3" ry="15" transform="rotate(120 614 2650)"/><ellipse cx="292" cy="2641" rx="5" ry="20" transform="rotate(89 292 2641)"/><ellipse cx="488" cy="2422" rx="5" ry="16" transform="rotate(82 488 2422)"/><ellipse cx="317" cy="2270" rx="6" ry="14" transform="rotate(4 317 2270)"/><ellipse cx="106" cy="2343" rx="3" ry="22" transform="rotate(110 106 2343)"/><ellipse cx="336" cy="2573" rx="5" ry="12" transform="rotate(38 336 2573)"/><ellipse cx="534" cy="2317" rx="4" ry="12" transform="rotate(67 534 2317)"/><ellipse cx="147" cy="2232" rx="5" ry="22" transform="rotate(100 147 2232)"/><ellipse cx="142" cy="2630" rx="4" ry="13" transform="rotate(11 142 2630)"/><ellipse cx="203" cy="2646" rx="5" ry="12" transform="rotate(97 203 2646)"/><ellipse cx="347" cy="2512" rx="5" ry="13" transform="rotate(143 347 2512)"/><ellipse cx="150" cy="2168" rx="3" ry="16" transform="rotate(139 150 2168)"/><ellipse cx="339" cy="2258" rx="5" ry="21" transform="rotate(146 339 2258)"/><ellipse cx="621" cy="2233" rx="6" ry="15" transform="rotate(17 621 2233)"/><ellipse cx="435" cy="2377" rx="3" ry="11" transform="rotate(129 435 2377)"/><ellipse cx="379" cy="2371" rx="5" ry="20" transform="rotate(164 379 2371)"/><ellipse cx="531" cy="2542" rx="4" ry="21" transform="rotate(118 531 2542)"/><ellipse cx="441" cy="2567" rx="5" ry="23" transform="rotate(140 441 2567)"/><ellipse cx="448" cy="2676" rx="6" ry="13" transform="rotate(170 448 2676)"/><ellipse cx="433" cy="2646" rx="4" ry="19" transform="rotate(150 433 2646)"/><ellipse cx="389" cy="2607" rx="3" ry="21" transform="rotate(177 389 2607)"/><ellipse cx="158" cy="2641" rx="3" ry="18" transform="rotate(20 158 2641)"/><ellipse cx="511" cy="2215" rx="4" ry="19" transform="rotate(174 511 2215)"/><ellipse cx="196" cy="2197" rx="4" ry="21" transform="rotate(156 196 2197)"/><ellipse cx="554" cy="2302" rx="5" ry="24" transform="rotate(88 554 2302)"/><ellipse cx="283" cy="2407" rx="5" ry="13" transform="rotate(117 283 2407)"/><ellipse cx="574" cy="2665" rx="5" ry="20" transform="rotate(158 574 2665)"/><ellipse cx="509" cy="2320" rx="6" ry="21" transform="rotate(25 509 2320)"/><ellipse cx="334" cy="2580" rx="5" ry="19" transform="rotate(142 334 2580)"/><ellipse cx="407" cy="2418" rx="5" ry="18" transform="rotate(128 407 2418)"/><ellipse cx="305" cy="2288" rx="4" ry="11" transform="rotate(117 305 2288)"/><ellipse cx="115" cy="2647" rx="6" ry="15" transform="rotate(35 115 2647)"/><ellipse cx="538" cy="2538" rx="3" ry="16" transform="rotate(145 538 2538)"/><ellipse cx="412" cy="2553" rx="6" ry="19" transform="rotate(4 412 2553)"/><ellipse cx="599" cy="2384" rx="4" ry="24" transform="rotate(19 599 2384)"/><ellipse cx="156" cy="2513" rx="5" ry="21" transform="rotate(36 156 2513)"/><ellipse cx="322" cy="2330" rx="6" ry="22" transform="rotate(153 322 2330)"/><ellipse cx="495" cy="2418" rx="3" ry="24" transform="rotate(85 495 2418)"/><ellipse cx="136" cy="2604" rx="6" ry="19" transform="rotate(30 136 2604)"/><ellipse cx="107" cy="2658" rx="6" ry="20" transform="rotate(24 107 2658)"/><ellipse cx="225" cy="2303" rx="4" ry="12" transform="rotate(122 225 2303)"/><ellipse cx="422" cy="2607" rx="4" ry="14" transform="rotate(1 422 2607)"/><ellipse cx="581" cy="2232" rx="3" ry="20" transform="rotate(15 581 2232)"/><ellipse cx="421" cy="2584" rx="4" ry="22" transform="rotate(178 421 2584)"/><ellipse cx="445" cy="2562" rx="4" ry="16" transform="rotate(96 445 2562)"/><ellipse cx="619" cy="2300" rx="4" ry="13" transform="rotate(65 619 2300)"/><ellipse cx="123" cy="2305" rx="6" ry="19" transform="rotate(142 123 2305)"/><ellipse cx="283" cy="2357" rx="5" ry="16" transform="rotate(126 283 2357)"/><ellipse cx="618" cy="2499" rx="6" ry="12" transform="rotate(125 618 2499)"/><ellipse cx="164" cy="2383" rx="6" ry="16" transform="rotate(108 164 2383)"/><ellipse cx="295" cy="2583" rx="4" ry="14" transform="rotate(171 295 2583)"/><ellipse cx="534" cy="2293" rx="5" ry="22" transform="rotate(0 534 2293)"/><ellipse cx="265" cy="2455" rx="3" ry="16" transform="rotate(73 265 2455)"/><ellipse cx="407" cy="2528" rx="5" ry="19" transform="rotate(22 407 2528)"/><ellipse cx="410" cy="2175" rx="5" ry="23" transform="rotate(49 410 2175)"/><ellipse cx="600" cy="2267" rx="4" ry="23" transform="rotate(136 600 2267)"/><ellipse cx="100" cy="2370" rx="4" ry="17" transform="rotate(98 100 2370)"/><ellipse cx="536" cy="2535" rx="5" ry="23" transform="rotate(158 536 2535)"/><ellipse cx="401" cy="2209" rx="3" ry="15" transform="rotate(140 401 2209)"/><ellipse cx="551" cy="2459" rx="4" ry="15" transform="rotate(82 551 2459)"/><ellipse cx="364" cy="2639" rx="4" ry="13" transform="rotate(38 364 2639)"/><ellipse cx="114" cy="2437" rx="4" ry="22" transform="rotate(102 114 2437)"/><ellipse cx="150" cy="2238" rx="4" ry="18" transform="rotate(138 150 2238)"/><ellipse cx="496" cy="2619" rx="5" ry="20" transform="rotate(4 496 2619)"/><ellipse cx="516" cy="2499" rx="6" ry="17" transform="rotate(159 516 2499)"/><ellipse cx="225" cy="2629" rx="4" ry="16" transform="rotate(14 225 2629)"/><ellipse cx="382" cy="2507" rx="4" ry="22" transform="rotate(107 382 2507)"/><ellipse cx="214" cy="2267" rx="6" ry="15" transform="rotate(143 214 2267)"/><ellipse cx="239" cy="2396" rx="4" ry="23" transform="rotate(127 239 2396)"/><ellipse cx="365" cy="2439" rx="3" ry="17" transform="rotate(149 365 2439)"/><ellipse cx="402" cy="2468" rx="5" ry="22" transform="rotate(6 402 2468)"/><ellipse cx="223" cy="2585" rx="3" ry="13" transform="rotate(84 223 2585)"/><ellipse cx="371" cy="2162" rx="5" ry="20" transform="rotate(6 371 2162)"/><ellipse cx="591" cy="2298" rx="6" ry="18" transform="rotate(35 591 2298)"/><ellipse cx="112" cy="2675" rx="5" ry="20" transform="rotate(161 112 2675)"/><ellipse cx="356" cy="2654" rx="5" ry="18" transform="rotate(141 356 2654)"/><ellipse cx="422" cy="2289" rx="4" ry="14" transform="rotate(37 422 2289)"/><ellipse cx="247" cy="2339" rx="5" ry="19" transform="rotate(30 247 2339)"/><ellipse cx="439" cy="2659" rx="5" ry="17" transform="rotate(115 439 2659)"/><ellipse cx="553" cy="2420" rx="5" ry="23" transform="rotate(70 553 2420)"/><ellipse cx="471" cy="2496" rx="4" ry="23" transform="rotate(104 471 2496)"/><ellipse cx="555" cy="2515" rx="4" ry="20" transform="rotate(105 555 2515)"/><ellipse cx="161" cy="2499" rx="6" ry="14" transform="rotate(155 161 2499)"/><ellipse cx="350" cy="2292" rx="6" ry="21" transform="rotate(146 350 2292)"/><ellipse cx="614" cy="2339" rx="5" ry="14" transform="rotate(7 614 2339)"/><ellipse cx="150" cy="2178" rx="3" ry="13" transform="rotate(164 150 2178)"/><ellipse cx="275" cy="2485" rx="3" ry="11" transform="rotate(69 275 2485)"/><ellipse cx="498" cy="2525" rx="4" ry="18" transform="rotate(124 498 2525)"/><ellipse cx="549" cy="2260" rx="5" ry="23" transform="rotate(67 549 2260)"/><ellipse cx="126" cy="2306" rx="4" ry="23" transform="rotate(105 126 2306)"/><ellipse cx="168" cy="2658" rx="5" ry="15" transform="rotate(24 168 2658)"/><ellipse cx="114" cy="2532" rx="4" ry="23" transform="rotate(65 114 2532)"/><ellipse cx="591" cy="2638" rx="6" ry="19" transform="rotate(166 591 2638)"/><ellipse cx="352" cy="2450" rx="6" ry="23" transform="rotate(29 352 2450)"/><ellipse cx="302" cy="2701" rx="5" ry="23" transform="rotate(98 302 2701)"/><ellipse cx="490" cy="2680" rx="5" ry="17" transform="rotate(126 490 2680)"/><ellipse cx="404" cy="2262" rx="4" ry="12" transform="rotate(27 404 2262)"/><ellipse cx="532" cy="2369" rx="4" ry="14" transform="rotate(70 532 2369)"/><ellipse cx="514" cy="2642" rx="4" ry="22" transform="rotate(22 514 2642)"/><ellipse cx="248" cy="2220" rx="4" ry="12" transform="rotate(134 248 2220)"/><ellipse cx="252" cy="2251" rx="4" ry="12" transform="rotate(144 252 2251)"/><ellipse cx="490" cy="2499" rx="3" ry="22" transform="rotate(157 490 2499)"/><ellipse cx="205" cy="2643" rx="5" ry="11" transform="rotate(76 205 2643)"/><ellipse cx="225" cy="2244" rx="5" ry="17" transform="rotate(116 225 2244)"/><ellipse cx="432" cy="2657" rx="4" ry="20" transform="rotate(33 432 2657)"/><ellipse cx="570" cy="2561" rx="5" ry="14" transform="rotate(122 570 2561)"/><ellipse cx="217" cy="2429" rx="5" ry="22" transform="rotate(92 217 2429)"/><ellipse cx="579" cy="2645" rx="3" ry="20" transform="rotate(104 579 2645)"/><ellipse cx="394" cy="2576" rx="6" ry="16" transform="rotate(149 394 2576)"/><ellipse cx="579" cy="2271" rx="5" ry="21" transform="rotate(39 579 2271)"/></g><rect x="98" y="2158" width="523" height="544" filter="url(#dark)" opacity="0.14"/><g filter="url(#soft)"><use href="#cb" transform="translate(173,2615) rotate(16)"/><use href="#cb" transform="translate(234,2428) rotate(115)"/><use href="#cb" transform="translate(345,2366) rotate(53)"/><use href="#cb" transform="translate(152,2179) rotate(99)"/><use href="#cb" transform="translate(325,2570) rotate(0)"/><use href="#cb" transform="translate(460,2306) rotate(58)"/><use href="#cb" transform="translate(406,2218) rotate(81)"/><use href="#cb" transform="translate(120,2178) rotate(138)"/><use href="#cb" transform="translate(109,2633) rotate(175)"/><use href="#cb" transform="translate(215,2389) rotate(7)"/><use href="#cb" transform="translate(374,2570) rotate(126)"/><use href="#cb" transform="translate(387,2348) rotate(173)"/><use href="#cb" transform="translate(216,2409) rotate(74)"/><use href="#cb" transform="translate(577,2385) rotate(142)"/><use href="#cb" transform="translate(575,2217) rotate(161)"/><use href="#cb" transform="translate(611,2621) rotate(30)"/><use href="#cb" transform="translate(484,2640) rotate(128)"/><use href="#cb" transform="translate(583,2389) rotate(171)"/><use href="#cb" transform="translate(201,2315) rotate(127)"/><use href="#cb" transform="translate(536,2433) rotate(150)"/><use href="#cb" transform="translate(540,2419) rotate(103)"/><use href="#cb" transform="translate(316,2256) rotate(140)"/><use href="#cb" transform="translate(555,2577) rotate(95)"/><use href="#cb" transform="translate(148,2517) rotate(27)"/><use href="#cb" transform="translate(502,2441) rotate(100)"/><use href="#cb" transform="translate(293,2554) rotate(120)"/><use href="#cb" transform="translate(126,2538) rotate(157)"/><use href="#cb" transform="translate(407,2373) rotate(43)"/><use href="#cb" transform="translate(190,2285) rotate(3)"/><use href="#cb" transform="translate(498,2451) rotate(140)"/><use href="#cb" transform="translate(223,2437) rotate(147)"/><use href="#cb" transform="translate(285,2648) rotate(168)"/><use href="#cb" transform="translate(384,2673) rotate(1)"/><use href="#cb" transform="translate(300,2620) rotate(131)"/><use href="#cb" transform="translate(517,2440) rotate(143)"/><use href="#cb" transform="translate(209,2669) rotate(123)"/><use href="#cb" transform="translate(549,2467) rotate(51)"/><use href="#cb" transform="translate(585,2384) rotate(91)"/><use href="#cb" transform="translate(316,2165) rotate(138)"/><use href="#cb" transform="translate(423,2490) rotate(117)"/><use href="#cb" transform="translate(411,2592) rotate(162)"/><use href="#cb" transform="translate(195,2475) rotate(23)"/><use href="#cb" transform="translate(512,2588) rotate(65)"/><use href="#cb" transform="translate(121,2666) rotate(18)"/><use href="#cb" transform="translate(147,2173) rotate(3)"/><use href="#cb" transform="translate(489,2314) rotate(68)"/><use href="#cb" transform="translate(160,2496) rotate(88)"/><use href="#cb" transform="translate(252,2253) rotate(65)"/><use href="#cb" transform="translate(373,2253) rotate(69)"/><use href="#cb" transform="translate(435,2321) rotate(179)"/><use href="#cb" transform="translate(269,2416) rotate(6)"/><use href="#cb" transform="translate(263,2347) rotate(48)"/><use href="#cb" transform="translate(236,2299) rotate(130)"/><use href="#cb" transform="translate(603,2678) rotate(110)"/><use href="#cb" transform="translate(522,2175) rotate(4)"/></g></g></g>
<g clip-path="url(#cp1)"><g filter="url(#grain)"><g filter="url(#bl)"><rect x="535.0" y="2070.0" width="220.8" height="226.0" fill="#59504e"/><rect x="755.2" y="2070.0" width="130.8" height="226.0" fill="#5a514f"/><rect x="885.5" y="2070.0" width="130.8" height="226.0" fill="#5a514f"/><rect x="1015.8" y="2070.0" width="220.8" height="226.0" fill="#584f4d"/><rect x="535.0" y="2295.5" width="220.8" height="136.0" fill="#5e5553"/><rect x="755.2" y="2295.5" width="130.8" height="136.0" fill="#544b49"/><rect x="885.5" y="2295.5" width="130.8" height="136.0" fill="#524947"/><rect x="1015.8" y="2295.5" width="220.8" height="136.0" fill="#534a48"/><rect x="535.0" y="2431.0" width="220.8" height="136.0" fill="#5f5654"/><rect x="755.2" y="2431.0" width="130.8" height="136.0" fill="#524947"/><rect x="885.5" y="2431.0" width="130.8" height="136.0" fill="#4f4644"/><rect x="1015.8" y="2431.0" width="220.8" height="136.0" fill="#4e4543"/><rect x="535.0" y="2566.5" width="220.8" height="226.0" fill="#5a514f"/><rect x="755.2" y="2566.5" width="130.8" height="226.0" fill="#534a48"/><rect x="885.5" y="2566.5" width="130.8" height="226.0" fill="#4c4341"/><rect x="1015.8" y="2566.5" width="220.8" height="226.0" fill="#4c4341"/></g><rect x="625" y="2160" width="521" height="542" filter="url(#lines)" opacity="0.2"/><g fill="#d0c8a0" fill-opacity="0.035" stroke="#b8ae7c" stroke-width="1.5" stroke-opacity="0.15" filter="url(#soft)"><ellipse cx="928" cy="2266" rx="4" ry="20" transform="rotate(92 928 2266)"/><ellipse cx="737" cy="2280" rx="4" ry="20" transform="rotate(118 737 2280)"/><ellipse cx="736" cy="2686" rx="3" ry="21" transform="rotate(51 736 2686)"/><ellipse cx="816" cy="2416" rx="4" ry="19" transform="rotate(112 816 2416)"/><ellipse cx="835" cy="2273" rx="3" ry="22" transform="rotate(135 835 2273)"/><ellipse cx="979" cy="2520" rx="6" ry="16" transform="rotate(146 979 2520)"/><ellipse cx="823" cy="2389" rx="3" ry="17" transform="rotate(81 823 2389)"/><ellipse cx="904" cy="2347" rx="3" ry="20" transform="rotate(42 904 2347)"/><ellipse cx="630" cy="2466" rx="4" ry="12" transform="rotate(88 630 2466)"/><ellipse cx="704" cy="2531" rx="5" ry="16" transform="rotate(69 704 2531)"/><ellipse cx="965" cy="2418" rx="4" ry="22" transform="rotate(9 965 2418)"/><ellipse cx="985" cy="2530" rx="3" ry="12" transform="rotate(136 985 2530)"/><ellipse cx="642" cy="2347" rx="6" ry="13" transform="rotate(176 642 2347)"/><ellipse cx="993" cy="2580" rx="5" ry="21" transform="rotate(120 993 2580)"/><ellipse cx="698" cy="2257" rx="6" ry="17" transform="rotate(148 698 2257)"/><ellipse cx="1088" cy="2236" rx="6" ry="22" transform="rotate(171 1088 2236)"/><ellipse cx="801" cy="2197" rx="4" ry="12" transform="rotate(109 801 2197)"/><ellipse cx="770" cy="2607" rx="3" ry="23" transform="rotate(17 770 2607)"/><ellipse cx="755" cy="2271" rx="6" ry="15" transform="rotate(36 755 2271)"/><ellipse cx="675" cy="2514" rx="6" ry="11" transform="rotate(132 675 2514)"/><ellipse cx="955" cy="2624" rx="5" ry="14" transform="rotate(116 955 2624)"/><ellipse cx="767" cy="2518" rx="5" ry="18" transform="rotate(65 767 2518)"/><ellipse cx="799" cy="2668" rx="6" ry="16" transform="rotate(7 799 2668)"/><ellipse cx="653" cy="2279" rx="3" ry="13" transform="rotate(174 653 2279)"/><ellipse cx="688" cy="2346" rx="5" ry="20" transform="rotate(87 688 2346)"/><ellipse cx="983" cy="2357" rx="5" ry="18" transform="rotate(81 983 2357)"/><ellipse cx="691" cy="2456" rx="5" ry="14" transform="rotate(61 691 2456)"/><ellipse cx="852" cy="2407" rx="4" ry="12" transform="rotate(174 852 2407)"/><ellipse cx="651" cy="2698" rx="5" ry="14" transform="rotate(39 651 2698)"/><ellipse cx="995" cy="2675" rx="5" ry="17" transform="rotate(118 995 2675)"/><ellipse cx="1137" cy="2660" rx="4" ry="15" transform="rotate(166 1137 2660)"/><ellipse cx="946" cy="2238" rx="5" ry="22" transform="rotate(30 946 2238)"/><ellipse cx="657" cy="2535" rx="5" ry="24" transform="rotate(60 657 2535)"/><ellipse cx="1041" cy="2344" rx="5" ry="13" transform="rotate(110 1041 2344)"/><ellipse cx="997" cy="2386" rx="4" ry="21" transform="rotate(66 997 2386)"/><ellipse cx="675" cy="2286" rx="4" ry="13" transform="rotate(150 675 2286)"/><ellipse cx="1005" cy="2478" rx="4" ry="11" transform="rotate(73 1005 2478)"/><ellipse cx="724" cy="2440" rx="5" ry="23" transform="rotate(22 724 2440)"/><ellipse cx="891" cy="2283" rx="4" ry="23" transform="rotate(114 891 2283)"/><ellipse cx="1096" cy="2473" rx="4" ry="13" transform="rotate(56 1096 2473)"/><ellipse cx="683" cy="2182" rx="6" ry="19" transform="rotate(99 683 2182)"/><ellipse cx="1143" cy="2378" rx="3" ry="12" transform="rotate(43 1143 2378)"/><ellipse cx="775" cy="2448" rx="4" ry="20" transform="rotate(111 775 2448)"/><ellipse cx="827" cy="2463" rx="3" ry="22" transform="rotate(59 827 2463)"/><ellipse cx="1104" cy="2569" rx="3" ry="15" transform="rotate(151 1104 2569)"/><ellipse cx="1093" cy="2414" rx="4" ry="13" transform="rotate(73 1093 2414)"/><ellipse cx="711" cy="2398" rx="5" ry="21" transform="rotate(166 711 2398)"/><ellipse cx="724" cy="2581" rx="4" ry="18" transform="rotate(14 724 2581)"/><ellipse cx="642" cy="2644" rx="5" ry="19" transform="rotate(81 642 2644)"/><ellipse cx="980" cy="2360" rx="5" ry="23" transform="rotate(87 980 2360)"/><ellipse cx="947" cy="2691" rx="5" ry="12" transform="rotate(174 947 2691)"/><ellipse cx="970" cy="2361" rx="6" ry="12" transform="rotate(41 970 2361)"/><ellipse cx="1118" cy="2184" rx="3" ry="24" transform="rotate(46 1118 2184)"/><ellipse cx="1060" cy="2657" rx="4" ry="20" transform="rotate(143 1060 2657)"/><ellipse cx="1039" cy="2554" rx="5" ry="20" transform="rotate(117 1039 2554)"/><ellipse cx="773" cy="2375" rx="5" ry="18" transform="rotate(29 773 2375)"/><ellipse cx="879" cy="2658" rx="3" ry="18" transform="rotate(121 879 2658)"/><ellipse cx="996" cy="2166" rx="5" ry="15" transform="rotate(56 996 2166)"/><ellipse cx="951" cy="2498" rx="4" ry="13" transform="rotate(11 951 2498)"/><ellipse cx="856" cy="2195" rx="3" ry="21" transform="rotate(56 856 2195)"/><ellipse cx="676" cy="2453" rx="5" ry="22" transform="rotate(113 676 2453)"/><ellipse cx="711" cy="2201" rx="5" ry="22" transform="rotate(117 711 2201)"/><ellipse cx="1069" cy="2547" rx="5" ry="21" transform="rotate(34 1069 2547)"/><ellipse cx="1100" cy="2190" rx="5" ry="19" transform="rotate(36 1100 2190)"/><ellipse cx="632" cy="2298" rx="5" ry="15" transform="rotate(108 632 2298)"/><ellipse cx="920" cy="2636" rx="6" ry="18" transform="rotate(128 920 2636)"/><ellipse cx="1006" cy="2207" rx="5" ry="13" transform="rotate(57 1006 2207)"/><ellipse cx="702" cy="2431" rx="4" ry="13" transform="rotate(125 702 2431)"/><ellipse cx="708" cy="2390" rx="5" ry="12" transform="rotate(109 708 2390)"/><ellipse cx="756" cy="2522" rx="3" ry="15" transform="rotate(34 756 2522)"/><ellipse cx="705" cy="2285" rx="5" ry="23" transform="rotate(145 705 2285)"/><ellipse cx="753" cy="2627" rx="4" ry="21" transform="rotate(20 753 2627)"/><ellipse cx="928" cy="2350" rx="4" ry="18" transform="rotate(68 928 2350)"/><ellipse cx="778" cy="2315" rx="6" ry="24" transform="rotate(102 778 2315)"/><ellipse cx="707" cy="2657" rx="3" ry="17" transform="rotate(37 707 2657)"/><ellipse cx="1087" cy="2633" rx="4" ry="17" transform="rotate(130 1087 2633)"/><ellipse cx="1107" cy="2274" rx="5" ry="22" transform="rotate(83 1107 2274)"/><ellipse cx="1082" cy="2166" rx="4" ry="13" transform="rotate(59 1082 2166)"/><ellipse cx="935" cy="2380" rx="5" ry="20" transform="rotate(87 935 2380)"/><ellipse cx="732" cy="2645" rx="6" ry="22" transform="rotate(13 732 2645)"/><ellipse cx="1033" cy="2253" rx="5" ry="14" transform="rotate(71 1033 2253)"/><ellipse cx="1078" cy="2625" rx="5" ry="17" transform="rotate(146 1078 2625)"/><ellipse cx="703" cy="2599" rx="5" ry="19" transform="rotate(66 703 2599)"/><ellipse cx="748" cy="2636" rx="4" ry="16" transform="rotate(70 748 2636)"/><ellipse cx="853" cy="2540" rx="4" ry="21" transform="rotate(65 853 2540)"/><ellipse cx="816" cy="2470" rx="6" ry="12" transform="rotate(73 816 2470)"/><ellipse cx="1038" cy="2414" rx="4" ry="22" transform="rotate(75 1038 2414)"/><ellipse cx="731" cy="2682" rx="5" ry="15" transform="rotate(58 731 2682)"/><ellipse cx="1033" cy="2475" rx="5" ry="11" transform="rotate(121 1033 2475)"/><ellipse cx="721" cy="2385" rx="4" ry="15" transform="rotate(93 721 2385)"/><ellipse cx="922" cy="2565" rx="5" ry="14" transform="rotate(129 922 2565)"/><ellipse cx="1145" cy="2173" rx="4" ry="22" transform="rotate(66 1145 2173)"/><ellipse cx="748" cy="2339" rx="6" ry="12" transform="rotate(169 748 2339)"/><ellipse cx="906" cy="2242" rx="3" ry="14" transform="rotate(89 906 2242)"/><ellipse cx="991" cy="2447" rx="3" ry="15" transform="rotate(88 991 2447)"/><ellipse cx="676" cy="2607" rx="4" ry="20" transform="rotate(95 676 2607)"/><ellipse cx="800" cy="2385" rx="5" ry="21" transform="rotate(94 800 2385)"/><ellipse cx="664" cy="2268" rx="3" ry="17" transform="rotate(114 664 2268)"/><ellipse cx="682" cy="2442" rx="4" ry="21" transform="rotate(110 682 2442)"/><ellipse cx="1050" cy="2680" rx="4" ry="23" transform="rotate(3 1050 2680)"/><ellipse cx="1074" cy="2342" rx="3" ry="21" transform="rotate(152 1074 2342)"/><ellipse cx="983" cy="2494" rx="5" ry="15" transform="rotate(112 983 2494)"/><ellipse cx="1060" cy="2551" rx="5" ry="12" transform="rotate(162 1060 2551)"/><ellipse cx="642" cy="2252" rx="5" ry="20" transform="rotate(29 642 2252)"/><ellipse cx="1110" cy="2639" rx="3" ry="16" transform="rotate(139 1110 2639)"/><ellipse cx="846" cy="2366" rx="5" ry="19" transform="rotate(170 846 2366)"/><ellipse cx="1044" cy="2627" rx="4" ry="18" transform="rotate(145 1044 2627)"/><ellipse cx="865" cy="2522" rx="6" ry="20" transform="rotate(151 865 2522)"/><ellipse cx="758" cy="2466" rx="3" ry="17" transform="rotate(58 758 2466)"/><ellipse cx="1115" cy="2541" rx="3" ry="23" transform="rotate(121 1115 2541)"/><ellipse cx="1003" cy="2487" rx="4" ry="17" transform="rotate(146 1003 2487)"/><ellipse cx="689" cy="2501" rx="5" ry="19" transform="rotate(72 689 2501)"/><ellipse cx="883" cy="2462" rx="6" ry="22" transform="rotate(55 883 2462)"/><ellipse cx="1025" cy="2291" rx="4" ry="12" transform="rotate(88 1025 2291)"/><ellipse cx="1034" cy="2626" rx="5" ry="22" transform="rotate(6 1034 2626)"/><ellipse cx="688" cy="2197" rx="6" ry="24" transform="rotate(121 688 2197)"/><ellipse cx="998" cy="2496" rx="4" ry="12" transform="rotate(65 998 2496)"/><ellipse cx="1044" cy="2193" rx="5" ry="19" transform="rotate(76 1044 2193)"/><ellipse cx="682" cy="2397" rx="5" ry="15" transform="rotate(91 682 2397)"/><ellipse cx="705" cy="2346" rx="4" ry="19" transform="rotate(178 705 2346)"/><ellipse cx="1119" cy="2334" rx="4" ry="21" transform="rotate(97 1119 2334)"/><ellipse cx="970" cy="2457" rx="5" ry="14" transform="rotate(146 970 2457)"/><ellipse cx="1033" cy="2259" rx="5" ry="12" transform="rotate(176 1033 2259)"/><ellipse cx="864" cy="2312" rx="4" ry="16" transform="rotate(176 864 2312)"/><ellipse cx="841" cy="2272" rx="6" ry="13" transform="rotate(132 841 2272)"/><ellipse cx="746" cy="2381" rx="5" ry="20" transform="rotate(35 746 2381)"/><ellipse cx="932" cy="2427" rx="5" ry="14" transform="rotate(175 932 2427)"/><ellipse cx="1025" cy="2180" rx="6" ry="20" transform="rotate(28 1025 2180)"/><ellipse cx="1107" cy="2390" rx="6" ry="13" transform="rotate(73 1107 2390)"/><ellipse cx="630" cy="2312" rx="5" ry="18" transform="rotate(89 630 2312)"/><ellipse cx="1046" cy="2531" rx="3" ry="12" transform="rotate(138 1046 2531)"/><ellipse cx="775" cy="2232" rx="5" ry="20" transform="rotate(69 775 2232)"/><ellipse cx="720" cy="2429" rx="4" ry="14" transform="rotate(91 720 2429)"/><ellipse cx="983" cy="2685" rx="3" ry="17" transform="rotate(165 983 2685)"/><ellipse cx="867" cy="2500" rx="4" ry="19" transform="rotate(67 867 2500)"/><ellipse cx="838" cy="2465" rx="6" ry="19" transform="rotate(125 838 2465)"/><ellipse cx="803" cy="2676" rx="5" ry="14" transform="rotate(58 803 2676)"/><ellipse cx="1139" cy="2629" rx="5" ry="22" transform="rotate(27 1139 2629)"/><ellipse cx="674" cy="2309" rx="4" ry="24" transform="rotate(37 674 2309)"/><ellipse cx="927" cy="2549" rx="5" ry="13" transform="rotate(172 927 2549)"/><ellipse cx="1104" cy="2482" rx="5" ry="18" transform="rotate(117 1104 2482)"/><ellipse cx="1108" cy="2626" rx="5" ry="16" transform="rotate(145 1108 2626)"/><ellipse cx="1022" cy="2690" rx="3" ry="12" transform="rotate(137 1022 2690)"/><ellipse cx="657" cy="2363" rx="5" ry="22" transform="rotate(146 657 2363)"/><ellipse cx="1016" cy="2682" rx="4" ry="16" transform="rotate(150 1016 2682)"/><ellipse cx="908" cy="2700" rx="4" ry="12" transform="rotate(64 908 2700)"/><ellipse cx="816" cy="2467" rx="4" ry="13" transform="rotate(54 816 2467)"/><ellipse cx="892" cy="2373" rx="4" ry="18" transform="rotate(168 892 2373)"/><ellipse cx="1017" cy="2494" rx="6" ry="13" transform="rotate(112 1017 2494)"/><ellipse cx="663" cy="2212" rx="4" ry="15" transform="rotate(99 663 2212)"/><ellipse cx="728" cy="2164" rx="5" ry="24" transform="rotate(152 728 2164)"/><ellipse cx="756" cy="2479" rx="6" ry="17" transform="rotate(58 756 2479)"/><ellipse cx="1104" cy="2179" rx="4" ry="22" transform="rotate(166 1104 2179)"/><ellipse cx="1136" cy="2614" rx="4" ry="20" transform="rotate(100 1136 2614)"/><ellipse cx="1079" cy="2498" rx="5" ry="13" transform="rotate(132 1079 2498)"/><ellipse cx="708" cy="2687" rx="5" ry="24" transform="rotate(42 708 2687)"/><ellipse cx="1061" cy="2584" rx="3" ry="14" transform="rotate(109 1061 2584)"/><ellipse cx="884" cy="2490" rx="3" ry="17" transform="rotate(14 884 2490)"/><ellipse cx="817" cy="2636" rx="5" ry="23" transform="rotate(178 817 2636)"/><ellipse cx="771" cy="2307" rx="4" ry="14" transform="rotate(21 771 2307)"/><ellipse cx="939" cy="2676" rx="3" ry="19" transform="rotate(145 939 2676)"/><ellipse cx="858" cy="2165" rx="4" ry="21" transform="rotate(169 858 2165)"/><ellipse cx="951" cy="2342" rx="3" ry="14" transform="rotate(132 951 2342)"/><ellipse cx="943" cy="2344" rx="4" ry="21" transform="rotate(9 943 2344)"/><ellipse cx="1096" cy="2427" rx="5" ry="18" transform="rotate(134 1096 2427)"/><ellipse cx="1040" cy="2649" rx="5" ry="17" transform="rotate(135 1040 2649)"/><ellipse cx="1038" cy="2616" rx="3" ry="16" transform="rotate(129 1038 2616)"/><ellipse cx="649" cy="2351" rx="4" ry="13" transform="rotate(91 649 2351)"/><ellipse cx="700" cy="2506" rx="5" ry="16" transform="rotate(87 700 2506)"/><ellipse cx="631" cy="2666" rx="3" ry="17" transform="rotate(32 631 2666)"/><ellipse cx="634" cy="2314" rx="5" ry="24" transform="rotate(94 634 2314)"/><ellipse cx="944" cy="2404" rx="5" ry="17" transform="rotate(93 944 2404)"/><ellipse cx="989" cy="2402" rx="4" ry="20" transform="rotate(74 989 2402)"/><ellipse cx="1011" cy="2355" rx="3" ry="19" transform="rotate(43 1011 2355)"/><ellipse cx="680" cy="2370" rx="5" ry="12" transform="rotate(129 680 2370)"/><ellipse cx="1006" cy="2176" rx="6" ry="21" transform="rotate(147 1006 2176)"/><ellipse cx="1028" cy="2625" rx="6" ry="12" transform="rotate(169 1028 2625)"/><ellipse cx="666" cy="2542" rx="3" ry="21" transform="rotate(10 666 2542)"/><ellipse cx="841" cy="2568" rx="5" ry="21" transform="rotate(53 841 2568)"/><ellipse cx="719" cy="2291" rx="6" ry="21" transform="rotate(157 719 2291)"/><ellipse cx="890" cy="2170" rx="5" ry="24" transform="rotate(170 890 2170)"/><ellipse cx="955" cy="2602" rx="4" ry="15" transform="rotate(100 955 2602)"/><ellipse cx="1136" cy="2702" rx="5" ry="19" transform="rotate(175 1136 2702)"/><ellipse cx="827" cy="2352" rx="6" ry="13" transform="rotate(174 827 2352)"/><ellipse cx="672" cy="2565" rx="5" ry="20" transform="rotate(92 672 2565)"/><ellipse cx="759" cy="2505" rx="5" ry="22" transform="rotate(63 759 2505)"/><ellipse cx="871" cy="2665" rx="4" ry="20" transform="rotate(109 871 2665)"/><ellipse cx="777" cy="2500" rx="5" ry="12" transform="rotate(81 777 2500)"/><ellipse cx="1028" cy="2205" rx="4" ry="15" transform="rotate(37 1028 2205)"/><ellipse cx="762" cy="2489" rx="4" ry="22" transform="rotate(46 762 2489)"/><ellipse cx="823" cy="2582" rx="5" ry="16" transform="rotate(5 823 2582)"/><ellipse cx="1035" cy="2500" rx="5" ry="20" transform="rotate(154 1035 2500)"/><ellipse cx="744" cy="2334" rx="4" ry="24" transform="rotate(163 744 2334)"/><ellipse cx="1116" cy="2544" rx="3" ry="16" transform="rotate(78 1116 2544)"/><ellipse cx="830" cy="2463" rx="6" ry="12" transform="rotate(49 830 2463)"/><ellipse cx="671" cy="2448" rx="3" ry="16" transform="rotate(123 671 2448)"/><ellipse cx="755" cy="2578" rx="6" ry="20" transform="rotate(59 755 2578)"/><ellipse cx="829" cy="2262" rx="6" ry="21" transform="rotate(21 829 2262)"/><ellipse cx="984" cy="2299" rx="5" ry="22" transform="rotate(41 984 2299)"/><ellipse cx="784" cy="2548" rx="5" ry="23" transform="rotate(112 784 2548)"/><ellipse cx="996" cy="2195" rx="5" ry="15" transform="rotate(52 996 2195)"/><ellipse cx="651" cy="2414" rx="3" ry="16" transform="rotate(104 651 2414)"/><ellipse cx="993" cy="2433" rx="6" ry="23" transform="rotate(50 993 2433)"/><ellipse cx="891" cy="2224" rx="5" ry="13" transform="rotate(171 891 2224)"/><ellipse cx="630" cy="2211" rx="4" ry="21" transform="rotate(67 630 2211)"/><ellipse cx="901" cy="2552" rx="5" ry="21" transform="rotate(18 901 2552)"/><ellipse cx="810" cy="2306" rx="5" ry="20" transform="rotate(167 810 2306)"/><ellipse cx="1038" cy="2472" rx="5" ry="20" transform="rotate(46 1038 2472)"/><ellipse cx="834" cy="2181" rx="4" ry="17" transform="rotate(37 834 2181)"/><ellipse cx="683" cy="2666" rx="3" ry="17" transform="rotate(167 683 2666)"/><ellipse cx="638" cy="2627" rx="5" ry="20" transform="rotate(32 638 2627)"/><ellipse cx="1097" cy="2208" rx="4" ry="12" transform="rotate(167 1097 2208)"/><ellipse cx="871" cy="2199" rx="5" ry="22" transform="rotate(145 871 2199)"/><ellipse cx="659" cy="2181" rx="4" ry="18" transform="rotate(101 659 2181)"/><ellipse cx="996" cy="2342" rx="4" ry="20" transform="rotate(91 996 2342)"/><ellipse cx="1100" cy="2560" rx="6" ry="13" transform="rotate(104 1100 2560)"/><ellipse cx="681" cy="2173" rx="4" ry="19" transform="rotate(96 681 2173)"/><ellipse cx="734" cy="2481" rx="6" ry="22" transform="rotate(39 734 2481)"/><ellipse cx="769" cy="2193" rx="4" ry="17" transform="rotate(156 769 2193)"/><ellipse cx="894" cy="2654" rx="4" ry="16" transform="rotate(41 894 2654)"/><ellipse cx="793" cy="2460" rx="5" ry="21" transform="rotate(96 793 2460)"/><ellipse cx="911" cy="2659" rx="4" ry="17" transform="rotate(29 911 2659)"/><ellipse cx="808" cy="2162" rx="6" ry="12" transform="rotate(155 808 2162)"/><ellipse cx="1073" cy="2578" rx="6" ry="13" transform="rotate(75 1073 2578)"/><ellipse cx="762" cy="2559" rx="3" ry="24" transform="rotate(37 762 2559)"/><ellipse cx="1000" cy="2364" rx="4" ry="13" transform="rotate(45 1000 2364)"/><ellipse cx="776" cy="2681" rx="5" ry="16" transform="rotate(92 776 2681)"/><ellipse cx="1020" cy="2456" rx="5" ry="18" transform="rotate(146 1020 2456)"/><ellipse cx="844" cy="2674" rx="5" ry="15" transform="rotate(13 844 2674)"/><ellipse cx="693" cy="2310" rx="6" ry="14" transform="rotate(87 693 2310)"/><ellipse cx="765" cy="2181" rx="4" ry="20" transform="rotate(1 765 2181)"/><ellipse cx="673" cy="2596" rx="5" ry="12" transform="rotate(49 673 2596)"/><ellipse cx="1036" cy="2277" rx="6" ry="16" transform="rotate(93 1036 2277)"/><ellipse cx="776" cy="2432" rx="5" ry="24" transform="rotate(122 776 2432)"/><ellipse cx="979" cy="2368" rx="4" ry="16" transform="rotate(167 979 2368)"/><ellipse cx="724" cy="2693" rx="5" ry="14" transform="rotate(46 724 2693)"/><ellipse cx="1030" cy="2673" rx="4" ry="22" transform="rotate(139 1030 2673)"/><ellipse cx="860" cy="2623" rx="4" ry="21" transform="rotate(37 860 2623)"/><ellipse cx="1122" cy="2423" rx="6" ry="16" transform="rotate(118 1122 2423)"/><ellipse cx="1084" cy="2699" rx="6" ry="23" transform="rotate(29 1084 2699)"/><ellipse cx="862" cy="2337" rx="4" ry="13" transform="rotate(169 862 2337)"/><ellipse cx="626" cy="2332" rx="3" ry="21" transform="rotate(138 626 2332)"/><ellipse cx="837" cy="2693" rx="5" ry="19" transform="rotate(0 837 2693)"/><ellipse cx="1131" cy="2546" rx="4" ry="13" transform="rotate(91 1131 2546)"/><ellipse cx="845" cy="2337" rx="4" ry="18" transform="rotate(165 845 2337)"/><ellipse cx="814" cy="2505" rx="4" ry="16" transform="rotate(106 814 2505)"/><ellipse cx="768" cy="2475" rx="5" ry="11" transform="rotate(7 768 2475)"/><ellipse cx="1016" cy="2618" rx="6" ry="14" transform="rotate(114 1016 2618)"/><ellipse cx="930" cy="2260" rx="6" ry="18" transform="rotate(154 930 2260)"/><ellipse cx="918" cy="2320" rx="3" ry="17" transform="rotate(157 918 2320)"/><ellipse cx="719" cy="2532" rx="3" ry="15" transform="rotate(61 719 2532)"/><ellipse cx="1066" cy="2222" rx="5" ry="21" transform="rotate(75 1066 2222)"/><ellipse cx="1116" cy="2509" rx="6" ry="22" transform="rotate(165 1116 2509)"/><ellipse cx="1036" cy="2549" rx="5" ry="17" transform="rotate(145 1036 2549)"/><ellipse cx="655" cy="2278" rx="6" ry="16" transform="rotate(83 655 2278)"/><ellipse cx="852" cy="2572" rx="4" ry="16" transform="rotate(21 852 2572)"/><ellipse cx="717" cy="2424" rx="4" ry="13" transform="rotate(121 717 2424)"/><ellipse cx="762" cy="2480" rx="4" ry="24" transform="rotate(107 762 2480)"/><ellipse cx="1129" cy="2372" rx="4" ry="21" transform="rotate(67 1129 2372)"/><ellipse cx="1112" cy="2292" rx="4" ry="19" transform="rotate(34 1112 2292)"/><ellipse cx="704" cy="2272" rx="4" ry="17" transform="rotate(94 704 2272)"/><ellipse cx="770" cy="2380" rx="5" ry="19" transform="rotate(116 770 2380)"/><ellipse cx="854" cy="2408" rx="6" ry="21" transform="rotate(37 854 2408)"/><ellipse cx="849" cy="2442" rx="3" ry="23" transform="rotate(55 849 2442)"/><ellipse cx="717" cy="2200" rx="5" ry="15" transform="rotate(132 717 2200)"/><ellipse cx="1010" cy="2458" rx="3" ry="18" transform="rotate(90 1010 2458)"/><ellipse cx="972" cy="2161" rx="5" ry="16" transform="rotate(41 972 2161)"/><ellipse cx="836" cy="2521" rx="4" ry="15" transform="rotate(54 836 2521)"/><ellipse cx="869" cy="2667" rx="4" ry="18" transform="rotate(173 869 2667)"/><ellipse cx="1133" cy="2509" rx="5" ry="14" transform="rotate(115 1133 2509)"/><ellipse cx="800" cy="2634" rx="5" ry="20" transform="rotate(56 800 2634)"/><ellipse cx="1004" cy="2314" rx="4" ry="16" transform="rotate(41 1004 2314)"/><ellipse cx="877" cy="2282" rx="4" ry="17" transform="rotate(73 877 2282)"/><ellipse cx="776" cy="2672" rx="5" ry="22" transform="rotate(42 776 2672)"/><ellipse cx="745" cy="2574" rx="5" ry="12" transform="rotate(20 745 2574)"/><ellipse cx="1122" cy="2238" rx="5" ry="17" transform="rotate(61 1122 2238)"/><ellipse cx="699" cy="2580" rx="4" ry="15" transform="rotate(108 699 2580)"/><ellipse cx="642" cy="2203" rx="6" ry="21" transform="rotate(164 642 2203)"/><ellipse cx="857" cy="2609" rx="4" ry="16" transform="rotate(2 857 2609)"/><ellipse cx="895" cy="2422" rx="5" ry="21" transform="rotate(83 895 2422)"/><ellipse cx="820" cy="2393" rx="3" ry="12" transform="rotate(101 820 2393)"/><ellipse cx="1022" cy="2246" rx="3" ry="21" transform="rotate(29 1022 2246)"/><ellipse cx="975" cy="2399" rx="4" ry="13" transform="rotate(120 975 2399)"/><ellipse cx="1009" cy="2285" rx="6" ry="23" transform="rotate(97 1009 2285)"/><ellipse cx="854" cy="2576" rx="4" ry="13" transform="rotate(41 854 2576)"/><ellipse cx="1000" cy="2668" rx="5" ry="21" transform="rotate(18 1000 2668)"/><ellipse cx="824" cy="2353" rx="3" ry="14" transform="rotate(128 824 2353)"/><ellipse cx="978" cy="2433" rx="3" ry="16" transform="rotate(41 978 2433)"/><ellipse cx="1108" cy="2227" rx="5" ry="23" transform="rotate(60 1108 2227)"/><ellipse cx="1127" cy="2465" rx="3" ry="13" transform="rotate(98 1127 2465)"/><ellipse cx="1082" cy="2581" rx="5" ry="21" transform="rotate(66 1082 2581)"/><ellipse cx="834" cy="2160" rx="6" ry="17" transform="rotate(108 834 2160)"/><ellipse cx="654" cy="2597" rx="5" ry="20" transform="rotate(73 654 2597)"/><ellipse cx="1113" cy="2630" rx="4" ry="16" transform="rotate(151 1113 2630)"/><ellipse cx="707" cy="2593" rx="5" ry="24" transform="rotate(70 707 2593)"/><ellipse cx="962" cy="2427" rx="5" ry="18" transform="rotate(58 962 2427)"/><ellipse cx="814" cy="2431" rx="3" ry="23" transform="rotate(107 814 2431)"/><ellipse cx="714" cy="2264" rx="4" ry="24" transform="rotate(112 714 2264)"/><ellipse cx="914" cy="2608" rx="3" ry="12" transform="rotate(158 914 2608)"/><ellipse cx="960" cy="2576" rx="5" ry="16" transform="rotate(90 960 2576)"/><ellipse cx="821" cy="2652" rx="5" ry="12" transform="rotate(23 821 2652)"/><ellipse cx="1028" cy="2315" rx="3" ry="19" transform="rotate(20 1028 2315)"/><ellipse cx="906" cy="2478" rx="5" ry="11" transform="rotate(166 906 2478)"/><ellipse cx="1135" cy="2295" rx="3" ry="20" transform="rotate(129 1135 2295)"/><ellipse cx="928" cy="2225" rx="6" ry="13" transform="rotate(19 928 2225)"/><ellipse cx="734" cy="2170" rx="4" ry="12" transform="rotate(3 734 2170)"/><ellipse cx="863" cy="2405" rx="5" ry="20" transform="rotate(145 863 2405)"/><ellipse cx="1101" cy="2228" rx="6" ry="17" transform="rotate(79 1101 2228)"/><ellipse cx="705" cy="2339" rx="3" ry="14" transform="rotate(118 705 2339)"/><ellipse cx="907" cy="2278" rx="6" ry="12" transform="rotate(77 907 2278)"/><ellipse cx="1106" cy="2521" rx="3" ry="22" transform="rotate(138 1106 2521)"/><ellipse cx="826" cy="2467" rx="5" ry="13" transform="rotate(27 826 2467)"/><ellipse cx="749" cy="2333" rx="5" ry="15" transform="rotate(161 749 2333)"/><ellipse cx="1013" cy="2574" rx="4" ry="21" transform="rotate(19 1013 2574)"/><ellipse cx="1013" cy="2586" rx="4" ry="17" transform="rotate(144 1013 2586)"/><ellipse cx="852" cy="2690" rx="5" ry="23" transform="rotate(180 852 2690)"/><ellipse cx="836" cy="2386" rx="5" ry="20" transform="rotate(121 836 2386)"/><ellipse cx="635" cy="2343" rx="3" ry="15" transform="rotate(158 635 2343)"/><ellipse cx="733" cy="2278" rx="6" ry="12" transform="rotate(150 733 2278)"/><ellipse cx="1037" cy="2613" rx="5" ry="13" transform="rotate(158 1037 2613)"/><ellipse cx="1087" cy="2690" rx="4" ry="21" transform="rotate(169 1087 2690)"/><ellipse cx="854" cy="2171" rx="5" ry="12" transform="rotate(97 854 2171)"/><ellipse cx="1083" cy="2553" rx="6" ry="15" transform="rotate(53 1083 2553)"/><ellipse cx="926" cy="2579" rx="3" ry="14" transform="rotate(155 926 2579)"/><ellipse cx="1125" cy="2407" rx="6" ry="23" transform="rotate(122 1125 2407)"/><ellipse cx="1000" cy="2613" rx="6" ry="18" transform="rotate(129 1000 2613)"/><ellipse cx="791" cy="2575" rx="5" ry="15" transform="rotate(90 791 2575)"/><ellipse cx="1011" cy="2233" rx="3" ry="20" transform="rotate(178 1011 2233)"/><ellipse cx="764" cy="2580" rx="6" ry="14" transform="rotate(36 764 2580)"/><ellipse cx="853" cy="2540" rx="3" ry="17" transform="rotate(167 853 2540)"/><ellipse cx="917" cy="2653" rx="4" ry="15" transform="rotate(11 917 2653)"/><ellipse cx="747" cy="2193" rx="5" ry="20" transform="rotate(138 747 2193)"/><ellipse cx="645" cy="2656" rx="4" ry="22" transform="rotate(12 645 2656)"/><ellipse cx="1040" cy="2376" rx="5" ry="23" transform="rotate(30 1040 2376)"/><ellipse cx="942" cy="2195" rx="5" ry="17" transform="rotate(81 942 2195)"/><ellipse cx="922" cy="2408" rx="3" ry="20" transform="rotate(71 922 2408)"/><ellipse cx="655" cy="2285" rx="5" ry="22" transform="rotate(87 655 2285)"/><ellipse cx="858" cy="2441" rx="5" ry="20" transform="rotate(75 858 2441)"/><ellipse cx="744" cy="2344" rx="5" ry="22" transform="rotate(141 744 2344)"/><ellipse cx="925" cy="2656" rx="4" ry="15" transform="rotate(143 925 2656)"/><ellipse cx="880" cy="2396" rx="6" ry="17" transform="rotate(104 880 2396)"/><ellipse cx="791" cy="2204" rx="3" ry="22" transform="rotate(114 791 2204)"/><ellipse cx="873" cy="2530" rx="6" ry="17" transform="rotate(52 873 2530)"/><ellipse cx="732" cy="2564" rx="4" ry="13" transform="rotate(45 732 2564)"/><ellipse cx="1060" cy="2655" rx="5" ry="16" transform="rotate(149 1060 2655)"/><ellipse cx="842" cy="2650" rx="3" ry="15" transform="rotate(65 842 2650)"/><ellipse cx="902" cy="2281" rx="4" ry="17" transform="rotate(42 902 2281)"/><ellipse cx="1130" cy="2505" rx="5" ry="17" transform="rotate(24 1130 2505)"/><ellipse cx="956" cy="2386" rx="6" ry="19" transform="rotate(59 956 2386)"/><ellipse cx="1118" cy="2429" rx="5" ry="16" transform="rotate(72 1118 2429)"/><ellipse cx="1132" cy="2249" rx="3" ry="13" transform="rotate(50 1132 2249)"/><ellipse cx="1045" cy="2621" rx="5" ry="14" transform="rotate(44 1045 2621)"/><ellipse cx="750" cy="2534" rx="4" ry="11" transform="rotate(68 750 2534)"/><ellipse cx="1130" cy="2200" rx="6" ry="20" transform="rotate(37 1130 2200)"/><ellipse cx="728" cy="2398" rx="3" ry="21" transform="rotate(109 728 2398)"/><ellipse cx="822" cy="2206" rx="3" ry="18" transform="rotate(128 822 2206)"/><ellipse cx="941" cy="2323" rx="5" ry="15" transform="rotate(43 941 2323)"/><ellipse cx="1119" cy="2630" rx="5" ry="15" transform="rotate(82 1119 2630)"/><ellipse cx="1028" cy="2536" rx="3" ry="19" transform="rotate(155 1028 2536)"/><ellipse cx="836" cy="2637" rx="5" ry="22" transform="rotate(70 836 2637)"/><ellipse cx="1038" cy="2383" rx="5" ry="14" transform="rotate(54 1038 2383)"/><ellipse cx="1003" cy="2224" rx="3" ry="22" transform="rotate(19 1003 2224)"/><ellipse cx="776" cy="2206" rx="6" ry="16" transform="rotate(25 776 2206)"/><ellipse cx="986" cy="2650" rx="3" ry="18" transform="rotate(1 986 2650)"/><ellipse cx="1087" cy="2608" rx="4" ry="19" transform="rotate(134 1087 2608)"/><ellipse cx="783" cy="2662" rx="5" ry="11" transform="rotate(60 783 2662)"/><ellipse cx="930" cy="2501" rx="6" ry="16" transform="rotate(137 930 2501)"/><ellipse cx="813" cy="2171" rx="3" ry="18" transform="rotate(128 813 2171)"/><ellipse cx="941" cy="2460" rx="4" ry="16" transform="rotate(130 941 2460)"/><ellipse cx="1089" cy="2462" rx="3" ry="20" transform="rotate(88 1089 2462)"/><ellipse cx="742" cy="2222" rx="3" ry="22" transform="rotate(172 742 2222)"/><ellipse cx="808" cy="2420" rx="5" ry="21" transform="rotate(95 808 2420)"/><ellipse cx="1113" cy="2665" rx="5" ry="12" transform="rotate(153 1113 2665)"/><ellipse cx="744" cy="2364" rx="5" ry="11" transform="rotate(97 744 2364)"/><ellipse cx="722" cy="2629" rx="3" ry="23" transform="rotate(92 722 2629)"/><ellipse cx="911" cy="2593" rx="4" ry="19" transform="rotate(5 911 2593)"/><ellipse cx="1103" cy="2320" rx="3" ry="24" transform="rotate(63 1103 2320)"/><ellipse cx="949" cy="2266" rx="6" ry="15" transform="rotate(128 949 2266)"/><ellipse cx="1140" cy="2430" rx="4" ry="20" transform="rotate(82 1140 2430)"/><ellipse cx="1135" cy="2355" rx="4" ry="15" transform="rotate(103 1135 2355)"/></g><rect x="625" y="2160" width="521" height="542" filter="url(#dark)" opacity="0.14"/><g filter="url(#soft)"><use href="#cb" transform="translate(1118,2668) rotate(14)"/><use href="#cb" transform="translate(678,2357) rotate(43)"/><use href="#cb" transform="translate(1006,2521) rotate(78)"/><use href="#cb" transform="translate(759,2278) rotate(9)"/><use href="#cb" transform="translate(927,2250) rotate(110)"/><use href="#cb" transform="translate(956,2592) rotate(130)"/><use href="#cb" transform="translate(1114,2454) rotate(113)"/><use href="#cb" transform="translate(887,2644) rotate(7)"/><use href="#cb" transform="translate(816,2660) rotate(97)"/><use href="#cb" transform="translate(847,2635) rotate(42)"/><use href="#cb" transform="translate(916,2291) rotate(6)"/><use href="#cb" transform="translate(721,2258) rotate(130)"/><use href="#cb" transform="translate(891,2695) rotate(172)"/><use href="#cb" transform="translate(916,2693) rotate(114)"/><use href="#cb" transform="translate(1037,2555) rotate(93)"/><use href="#cb" transform="translate(1033,2354) rotate(114)"/><use href="#cb" transform="translate(713,2566) rotate(118)"/><use href="#cb" transform="translate(964,2298) rotate(71)"/><use href="#cb" transform="translate(1102,2431) rotate(90)"/><use href="#cb" transform="translate(968,2407) rotate(118)"/><use href="#cb" transform="translate(810,2551) rotate(142)"/><use href="#cb" transform="translate(999,2424) rotate(56)"/><use href="#cb" transform="translate(1110,2598) rotate(42)"/><use href="#cb" transform="translate(1077,2493) rotate(122)"/><use href="#cb" transform="translate(789,2673) rotate(129)"/><use href="#cb" transform="translate(917,2435) rotate(157)"/><use href="#cb" transform="translate(930,2331) rotate(53)"/><use href="#cb" transform="translate(880,2360) rotate(175)"/><use href="#cb" transform="translate(948,2206) rotate(87)"/><use href="#cb" transform="translate(1001,2647) rotate(48)"/><use href="#cb" transform="translate(1139,2222) rotate(147)"/><use href="#cb" transform="translate(963,2311) rotate(58)"/><use href="#cb" transform="translate(978,2651) rotate(133)"/><use href="#cb" transform="translate(700,2307) rotate(53)"/><use href="#cb" transform="translate(1111,2198) rotate(8)"/><use href="#cb" transform="translate(660,2357) rotate(63)"/><use href="#cb" transform="translate(973,2210) rotate(17)"/><use href="#cb" transform="translate(644,2553) rotate(5)"/><use href="#cb" transform="translate(821,2234) rotate(40)"/><use href="#cb" transform="translate(1005,2443) rotate(0)"/><use href="#cb" transform="translate(827,2189) rotate(63)"/><use href="#cb" transform="translate(708,2185) rotate(88)"/><use href="#cb" transform="translate(1109,2499) rotate(28)"/><use href="#cb" transform="translate(777,2425) rotate(78)"/><use href="#cb" transform="translate(859,2572) rotate(11)"/><use href="#cb" transform="translate(1090,2567) rotate(159)"/><use href="#cb" transform="translate(990,2417) rotate(57)"/><use href="#cb" transform="translate(679,2530) rotate(26)"/><use href="#cb" transform="translate(643,2584) rotate(32)"/><use href="#cb" transform="translate(895,2580) rotate(124)"/><use href="#cb" transform="translate(893,2242) rotate(87)"/><use href="#cb" transform="translate(763,2487) rotate(107)"/><use href="#cb" transform="translate(964,2537) rotate(35)"/><use href="#cb" transform="translate(972,2300) rotate(33)"/><use href="#cb" transform="translate(713,2217) rotate(162)"/><use href="#cb" transform="translate(749,2652) rotate(8)"/><use href="#cb" transform="translate(1137,2289) rotate(113)"/><use href="#cb" transform="translate(668,2209) rotate(58)"/><use href="#cb" transform="translate(949,2590) rotate(92)"/><use href="#cb" transform="translate(762,2390) rotate(134)"/><use href="#cb" transform="translate(1013,2246) rotate(98)"/><use href="#cb" transform="translate(839,2225) rotate(22)"/><use href="#cb" transform="translate(754,2219) rotate(46)"/><use href="#cb" transform="translate(1013,2222) rotate(6)"/><use href="#cb" transform="translate(896,2412) rotate(79)"/><use href="#cb" transform="translate(904,2367) rotate(175)"/><use href="#cb" transform="translate(1092,2676) rotate(111)"/><use href="#cb" transform="translate(848,2177) rotate(151)"/><use href="#cb" transform="translate(657,2388) rotate(134)"/><use href="#cb" transform="translate(927,2654) rotate(169)"/><use href="#cb" transform="translate(1040,2360) rotate(132)"/><use href="#cb" transform="translate(1120,2229) rotate(93)"/><use href="#cb" transform="translate(778,2687) rotate(95)"/><use href="#cb" transform="translate(788,2629) rotate(105)"/><use href="#cb" transform="translate(682,2328) rotate(172)"/><use href="#cb" transform="translate(1051,2596) rotate(15)"/><use href="#cb" transform="translate(840,2424) rotate(53)"/><use href="#cb" transform="translate(1084,2491) rotate(1)"/><use href="#cb" transform="translate(776,2364) rotate(19)"/><use href="#cb" transform="translate(743,2426) rotate(29)"/><use href="#cb" transform="translate(922,2374) rotate(118)"/><use href="#cb" transform="translate(702,2349) rotate(31)"/><use href="#cb" transform="translate(760,2231) rotate(157)"/><use href="#cb" transform="translate(1064,2506) rotate(54)"/><use href="#cb" transform="translate(984,2179) rotate(168)"/><use href="#cb" transform="translate(870,2189) rotate(127)"/><use href="#cb" transform="translate(779,2675) rotate(36)"/><use href="#cb" transform="translate(1038,2309) rotate(134)"/><use href="#cb" transform="translate(1072,2547) rotate(107)"/><use href="#cb" transform="translate(1105,2609) rotate(75)"/></g></g></g>
<g clip-path="url(#cp2)"><g filter="url(#grain)"><g filter="url(#bl)"><rect x="1058.0" y="2065.5" width="218.8" height="227.1" fill="#655353"/><rect x="1276.2" y="2065.5" width="128.8" height="227.1" fill="#625050"/><rect x="1404.5" y="2065.5" width="128.8" height="227.1" fill="#614f4f"/><rect x="1532.8" y="2065.5" width="218.8" height="227.1" fill="#614f4f"/><rect x="1058.0" y="2292.1" width="218.8" height="137.1" fill="#655353"/><rect x="1276.2" y="2292.1" width="128.8" height="137.1" fill="#625050"/><rect x="1404.5" y="2292.1" width="128.8" height="137.1" fill="#614f4f"/><rect x="1532.8" y="2292.1" width="218.8" height="137.1" fill="#614f4f"/><rect x="1058.0" y="2428.8" width="218.8" height="137.1" fill="#655353"/><rect x="1276.2" y="2428.8" width="128.8" height="137.1" fill="#625050"/><rect x="1404.5" y="2428.8" width="128.8" height="137.1" fill="#614f4f"/><rect x="1532.8" y="2428.8" width="218.8" height="137.1" fill="#614f4f"/><rect x="1058.0" y="2565.4" width="218.8" height="227.1" fill="#645252"/><rect x="1276.2" y="2565.4" width="128.8" height="227.1" fill="#625050"/><rect x="1404.5" y="2565.4" width="128.8" height="227.1" fill="#614f4f"/><rect x="1532.8" y="2565.4" width="218.8" height="227.1" fill="#614f4f"/></g><rect x="1148" y="2155.5" width="513" height="546.5" filter="url(#lines)" opacity="0.14"/><g fill="#d0c8a0" fill-opacity="0.035" stroke="#b8ae7c" stroke-width="1.5" stroke-opacity="0.15" filter="url(#soft)"><ellipse cx="1224" cy="2492" rx="5" ry="16" transform="rotate(97 1224 2492)"/><ellipse cx="1465" cy="2465" rx="3" ry="18" transform="rotate(169 1465 2465)"/><ellipse cx="1466" cy="2439" rx="4" ry="14" transform="rotate(141 1466 2439)"/><ellipse cx="1214" cy="2598" rx="5" ry="19" transform="rotate(9 1214 2598)"/><ellipse cx="1375" cy="2429" rx="3" ry="19" transform="rotate(96 1375 2429)"/><ellipse cx="1471" cy="2522" rx="4" ry="12" transform="rotate(7 1471 2522)"/><ellipse cx="1319" cy="2531" rx="4" ry="16" transform="rotate(162 1319 2531)"/><ellipse cx="1614" cy="2247" rx="4" ry="19" transform="rotate(45 1614 2247)"/><ellipse cx="1472" cy="2392" rx="5" ry="23" transform="rotate(26 1472 2392)"/><ellipse cx="1571" cy="2505" rx="4" ry="23" transform="rotate(101 1571 2505)"/><ellipse cx="1377" cy="2497" rx="4" ry="21" transform="rotate(58 1377 2497)"/><ellipse cx="1456" cy="2656" rx="5" ry="18" transform="rotate(128 1456 2656)"/><ellipse cx="1648" cy="2444" rx="6" ry="13" transform="rotate(27 1648 2444)"/><ellipse cx="1185" cy="2624" rx="6" ry="16" transform="rotate(97 1185 2624)"/><ellipse cx="1279" cy="2530" rx="4" ry="20" transform="rotate(74 1279 2530)"/><ellipse cx="1261" cy="2382" rx="3" ry="17" transform="rotate(99 1261 2382)"/><ellipse cx="1266" cy="2200" rx="3" ry="13" transform="rotate(134 1266 2200)"/><ellipse cx="1362" cy="2329" rx="5" ry="16" transform="rotate(170 1362 2329)"/><ellipse cx="1273" cy="2258" rx="4" ry="17" transform="rotate(125 1273 2258)"/><ellipse cx="1562" cy="2609" rx="4" ry="22" transform="rotate(14 1562 2609)"/><ellipse cx="1478" cy="2279" rx="5" ry="16" transform="rotate(44 1478 2279)"/><ellipse cx="1578" cy="2684" rx="6" ry="17" transform="rotate(158 1578 2684)"/><ellipse cx="1152" cy="2307" rx="5" ry="23" transform="rotate(126 1152 2307)"/><ellipse cx="1510" cy="2680" rx="5" ry="17" transform="rotate(27 1510 2680)"/><ellipse cx="1577" cy="2305" rx="6" ry="12" transform="rotate(64 1577 2305)"/><ellipse cx="1245" cy="2675" rx="3" ry="17" transform="rotate(157 1245 2675)"/><ellipse cx="1457" cy="2419" rx="4" ry="13" transform="rotate(143 1457 2419)"/><ellipse cx="1617" cy="2403" rx="4" ry="13" transform="rotate(23 1617 2403)"/><ellipse cx="1153" cy="2474" rx="6" ry="17" transform="rotate(71 1153 2474)"/><ellipse cx="1637" cy="2192" rx="5" ry="21" transform="rotate(88 1637 2192)"/><ellipse cx="1640" cy="2172" rx="5" ry="17" transform="rotate(178 1640 2172)"/><ellipse cx="1288" cy="2649" rx="6" ry="20" transform="rotate(26 1288 2649)"/><ellipse cx="1640" cy="2458" rx="3" ry="21" transform="rotate(144 1640 2458)"/><ellipse cx="1481" cy="2269" rx="3" ry="12" transform="rotate(51 1481 2269)"/><ellipse cx="1239" cy="2690" rx="3" ry="15" transform="rotate(42 1239 2690)"/><ellipse cx="1390" cy="2351" rx="6" ry="14" transform="rotate(62 1390 2351)"/><ellipse cx="1396" cy="2268" rx="4" ry="17" transform="rotate(39 1396 2268)"/><ellipse cx="1503" cy="2204" rx="3" ry="20" transform="rotate(58 1503 2204)"/><ellipse cx="1658" cy="2166" rx="5" ry="24" transform="rotate(116 1658 2166)"/><ellipse cx="1419" cy="2687" rx="3" ry="17" transform="rotate(30 1419 2687)"/><ellipse cx="1583" cy="2369" rx="4" ry="22" transform="rotate(36 1583 2369)"/><ellipse cx="1647" cy="2282" rx="4" ry="21" transform="rotate(73 1647 2282)"/><ellipse cx="1530" cy="2601" rx="6" ry="19" transform="rotate(112 1530 2601)"/><ellipse cx="1294" cy="2202" rx="6" ry="22" transform="rotate(83 1294 2202)"/><ellipse cx="1605" cy="2300" rx="4" ry="11" transform="rotate(52 1605 2300)"/><ellipse cx="1237" cy="2275" rx="5" ry="22" transform="rotate(52 1237 2275)"/><ellipse cx="1568" cy="2532" rx="4" ry="23" transform="rotate(35 1568 2532)"/><ellipse cx="1517" cy="2289" rx="5" ry="13" transform="rotate(26 1517 2289)"/><ellipse cx="1353" cy="2600" rx="4" ry="15" transform="rotate(60 1353 2600)"/><ellipse cx="1181" cy="2442" rx="4" ry="12" transform="rotate(89 1181 2442)"/><ellipse cx="1354" cy="2527" rx="3" ry="17" transform="rotate(81 1354 2527)"/><ellipse cx="1336" cy="2624" rx="6" ry="21" transform="rotate(49 1336 2624)"/><ellipse cx="1299" cy="2333" rx="5" ry="20" transform="rotate(151 1299 2333)"/><ellipse cx="1246" cy="2366" rx="6" ry="15" transform="rotate(74 1246 2366)"/><ellipse cx="1583" cy="2240" rx="4" ry="19" transform="rotate(85 1583 2240)"/><ellipse cx="1543" cy="2177" rx="4" ry="16" transform="rotate(32 1543 2177)"/><ellipse cx="1613" cy="2617" rx="4" ry="19" transform="rotate(175 1613 2617)"/><ellipse cx="1427" cy="2357" rx="4" ry="19" transform="rotate(159 1427 2357)"/><ellipse cx="1608" cy="2288" rx="4" ry="16" transform="rotate(43 1608 2288)"/><ellipse cx="1196" cy="2508" rx="4" ry="21" transform="rotate(85 1196 2508)"/><ellipse cx="1273" cy="2557" rx="4" ry="24" transform="rotate(67 1273 2557)"/><ellipse cx="1355" cy="2335" rx="3" ry="22" transform="rotate(149 1355 2335)"/><ellipse cx="1315" cy="2636" rx="6" ry="23" transform="rotate(3 1315 2636)"/><ellipse cx="1532" cy="2484" rx="5" ry="23" transform="rotate(106 1532 2484)"/><ellipse cx="1249" cy="2287" rx="6" ry="22" transform="rotate(135 1249 2287)"/><ellipse cx="1416" cy="2243" rx="5" ry="19" transform="rotate(147 1416 2243)"/><ellipse cx="1446" cy="2581" rx="5" ry="13" transform="rotate(92 1446 2581)"/><ellipse cx="1569" cy="2248" rx="6" ry="23" transform="rotate(53 1569 2248)"/><ellipse cx="1248" cy="2265" rx="4" ry="21" transform="rotate(125 1248 2265)"/><ellipse cx="1320" cy="2227" rx="5" ry="22" transform="rotate(120 1320 2227)"/><ellipse cx="1640" cy="2213" rx="6" ry="16" transform="rotate(47 1640 2213)"/><ellipse cx="1201" cy="2336" rx="5" ry="13" transform="rotate(83 1201 2336)"/><ellipse cx="1543" cy="2336" rx="4" ry="20" transform="rotate(55 1543 2336)"/><ellipse cx="1254" cy="2314" rx="6" ry="16" transform="rotate(102 1254 2314)"/><ellipse cx="1327" cy="2493" rx="5" ry="22" transform="rotate(25 1327 2493)"/><ellipse cx="1606" cy="2662" rx="6" ry="20" transform="rotate(74 1606 2662)"/><ellipse cx="1505" cy="2368" rx="4" ry="15" transform="rotate(121 1505 2368)"/><ellipse cx="1430" cy="2569" rx="5" ry="12" transform="rotate(39 1430 2569)"/><ellipse cx="1550" cy="2670" rx="5" ry="23" transform="rotate(52 1550 2670)"/><ellipse cx="1451" cy="2619" rx="6" ry="16" transform="rotate(155 1451 2619)"/><ellipse cx="1211" cy="2565" rx="4" ry="17" transform="rotate(125 1211 2565)"/><ellipse cx="1212" cy="2621" rx="4" ry="13" transform="rotate(16 1212 2621)"/><ellipse cx="1200" cy="2664" rx="3" ry="17" transform="rotate(167 1200 2664)"/><ellipse cx="1531" cy="2577" rx="4" ry="17" transform="rotate(171 1531 2577)"/><ellipse cx="1565" cy="2655" rx="6" ry="19" transform="rotate(3 1565 2655)"/><ellipse cx="1551" cy="2318" rx="4" ry="11" transform="rotate(79 1551 2318)"/><ellipse cx="1558" cy="2463" rx="4" ry="11" transform="rotate(138 1558 2463)"/><ellipse cx="1520" cy="2199" rx="5" ry="13" transform="rotate(102 1520 2199)"/><ellipse cx="1160" cy="2558" rx="5" ry="20" transform="rotate(23 1160 2558)"/><ellipse cx="1238" cy="2387" rx="5" ry="22" transform="rotate(70 1238 2387)"/><ellipse cx="1479" cy="2422" rx="4" ry="13" transform="rotate(113 1479 2422)"/><ellipse cx="1151" cy="2632" rx="4" ry="19" transform="rotate(170 1151 2632)"/><ellipse cx="1418" cy="2515" rx="4" ry="17" transform="rotate(39 1418 2515)"/><ellipse cx="1243" cy="2364" rx="5" ry="19" transform="rotate(92 1243 2364)"/><ellipse cx="1470" cy="2627" rx="5" ry="19" transform="rotate(8 1470 2627)"/><ellipse cx="1162" cy="2698" rx="4" ry="20" transform="rotate(42 1162 2698)"/><ellipse cx="1266" cy="2387" rx="3" ry="12" transform="rotate(175 1266 2387)"/><ellipse cx="1521" cy="2470" rx="4" ry="23" transform="rotate(172 1521 2470)"/><ellipse cx="1507" cy="2401" rx="6" ry="16" transform="rotate(55 1507 2401)"/><ellipse cx="1545" cy="2276" rx="4" ry="24" transform="rotate(143 1545 2276)"/><ellipse cx="1525" cy="2375" rx="5" ry="18" transform="rotate(30 1525 2375)"/><ellipse cx="1380" cy="2385" rx="6" ry="22" transform="rotate(141 1380 2385)"/><ellipse cx="1272" cy="2373" rx="5" ry="19" transform="rotate(159 1272 2373)"/><ellipse cx="1251" cy="2466" rx="5" ry="17" transform="rotate(43 1251 2466)"/><ellipse cx="1358" cy="2391" rx="5" ry="12" transform="rotate(109 1358 2391)"/><ellipse cx="1545" cy="2442" rx="4" ry="14" transform="rotate(81 1545 2442)"/><ellipse cx="1286" cy="2244" rx="3" ry="20" transform="rotate(176 1286 2244)"/><ellipse cx="1649" cy="2313" rx="4" ry="19" transform="rotate(63 1649 2313)"/><ellipse cx="1315" cy="2407" rx="4" ry="16" transform="rotate(172 1315 2407)"/><ellipse cx="1511" cy="2467" rx="6" ry="17" transform="rotate(55 1511 2467)"/></g><rect x="1148" y="2155.5" width="513" height="546.5" filter="url(#dark)" opacity="0.14"/><g filter="url(#soft)"><use href="#cf" transform="translate(1273,2452) rotate(94)"/><use href="#cf" transform="translate(1613,2415) rotate(148)"/><use href="#cf" transform="translate(1187,2169) rotate(120)"/><use href="#cf" transform="translate(1284,2287) rotate(120)"/><use href="#cf" transform="translate(1425,2455) rotate(101)"/><use href="#cf" transform="translate(1474,2242) rotate(162)"/><use href="#cf" transform="translate(1230,2656) rotate(99)"/><use href="#cf" transform="translate(1525,2520) rotate(16)"/><use href="#cf" transform="translate(1234,2673) rotate(10)"/><use href="#cf" transform="translate(1305,2178) rotate(68)"/><use href="#cf" transform="translate(1391,2546) rotate(99)"/><use href="#cf" transform="translate(1512,2654) rotate(101)"/><use href="#cf" transform="translate(1519,2470) rotate(34)"/><use href="#cf" transform="translate(1594,2214) rotate(34)"/><use href="#cf" transform="translate(1402,2299) rotate(172)"/><use href="#cf" transform="translate(1373,2496) rotate(77)"/><use href="#cf" transform="translate(1365,2607) rotate(146)"/><use href="#cf" transform="translate(1330,2474) rotate(149)"/><use href="#cf" transform="translate(1270,2342) rotate(7)"/><use href="#cf" transform="translate(1583,2691) rotate(171)"/><use href="#cf" transform="translate(1502,2535) rotate(83)"/><use href="#cf" transform="translate(1637,2645) rotate(145)"/><use href="#cf" transform="translate(1206,2512) rotate(162)"/><use href="#cf" transform="translate(1571,2468) rotate(72)"/><use href="#cf" transform="translate(1216,2419) rotate(163)"/><use href="#cf" transform="translate(1650,2209) rotate(17)"/><use href="#cf" transform="translate(1360,2242) rotate(75)"/><use href="#cf" transform="translate(1368,2383) rotate(30)"/><use href="#cf" transform="translate(1176,2490) rotate(11)"/><use href="#cf" transform="translate(1343,2475) rotate(141)"/><use href="#cf" transform="translate(1595,2686) rotate(129)"/><use href="#cf" transform="translate(1272,2181) rotate(1)"/><use href="#cf" transform="translate(1193,2482) rotate(8)"/><use href="#cf" transform="translate(1629,2681) rotate(74)"/><use href="#cf" transform="translate(1460,2245) rotate(10)"/></g></g></g>
<g clip-path="url(#cp3)"><g filter="url(#grain)"><g filter="url(#bl)"><rect x="8.0" y="2615.0" width="221.2" height="225.4" fill="#625a4e"/><rect x="228.8" y="2615.0" width="131.2" height="225.4" fill="#5c5448"/><rect x="359.5" y="2615.0" width="131.2" height="225.4" fill="#5a5246"/><rect x="490.2" y="2615.0" width="221.2" height="225.4" fill="#5c5448"/><rect x="8.0" y="2839.9" width="221.2" height="135.4" fill="#564e42"/><rect x="228.8" y="2839.9" width="131.2" height="135.4" fill="#50483c"/><rect x="359.5" y="2839.9" width="131.2" height="135.4" fill="#524a3e"/><rect x="490.2" y="2839.9" width="221.2" height="135.4" fill="#564e42"/><rect x="8.0" y="2974.8" width="221.2" height="135.4" fill="#50483c"/><rect x="228.8" y="2974.8" width="131.2" height="135.4" fill="#4c4438"/><rect x="359.5" y="2974.8" width="131.2" height="135.4" fill="#4e463a"/><rect x="490.2" y="2974.8" width="221.2" height="135.4" fill="#564e42"/><rect x="8.0" y="3109.6" width="221.2" height="225.4" fill="#50483c"/><rect x="228.8" y="3109.6" width="131.2" height="225.4" fill="#4e463a"/><rect x="359.5" y="3109.6" width="131.2" height="225.4" fill="#50483c"/><rect x="490.2" y="3109.6" width="221.2" height="225.4" fill="#544c40"/></g><rect x="98" y="2705" width="523" height="539.5" filter="url(#lines)" opacity="0.16"/><g fill="#d0c8a0" fill-opacity="0.035" stroke="#b8ae7c" stroke-width="1.5" stroke-opacity="0.15" filter="url(#soft)"><ellipse cx="610" cy="2951" rx="24" ry="29" transform="rotate(129 610 2951)"/><ellipse cx="139" cy="3030" rx="19" ry="44" transform="rotate(22 139 3030)"/><ellipse cx="554" cy="2769" rx="17" ry="42" transform="rotate(15 554 2769)"/><ellipse cx="111" cy="2826" rx="16" ry="36" transform="rotate(19 111 2826)"/><ellipse cx="194" cy="2926" rx="24" ry="33" transform="rotate(132 194 2926)"/><ellipse cx="509" cy="3014" rx="17" ry="32" transform="rotate(149 509 3014)"/><ellipse cx="402" cy="3215" rx="21" ry="30" transform="rotate(111 402 3215)"/><ellipse cx="245" cy="2821" rx="26" ry="44" transform="rotate(178 245 2821)"/><ellipse cx="374" cy="3087" rx="21" ry="27" transform="rotate(53 374 3087)"/><ellipse cx="318" cy="2841" rx="27" ry="26" transform="rotate(18 318 2841)"/><ellipse cx="523" cy="3082" rx="21" ry="46" transform="rotate(16 523 3082)"/><ellipse cx="614" cy="3009" rx="24" ry="30" transform="rotate(139 614 3009)"/><ellipse cx="386" cy="3027" rx="25" ry="34" transform="rotate(71 386 3027)"/><ellipse cx="490" cy="2740" rx="15" ry="38" transform="rotate(80 490 2740)"/><ellipse cx="554" cy="2998" rx="23" ry="29" transform="rotate(102 554 2998)"/><ellipse cx="300" cy="3017" rx="19" ry="35" transform="rotate(116 300 3017)"/><ellipse cx="271" cy="3004" rx="19" ry="39" transform="rotate(122 271 3004)"/><ellipse cx="542" cy="2994" rx="18" ry="44" transform="rotate(176 542 2994)"/><ellipse cx="193" cy="2901" rx="14" ry="38" transform="rotate(147 193 2901)"/><ellipse cx="554" cy="3214" rx="19" ry="31" transform="rotate(123 554 3214)"/><ellipse cx="428" cy="2741" rx="26" ry="38" transform="rotate(5 428 2741)"/><ellipse cx="183" cy="2936" rx="26" ry="30" transform="rotate(52 183 2936)"/><ellipse cx="477" cy="3106" rx="18" ry="35" transform="rotate(57 477 3106)"/><ellipse cx="307" cy="3025" rx="25" ry="33" transform="rotate(59 307 3025)"/><ellipse cx="169" cy="3123" rx="24" ry="36" transform="rotate(161 169 3123)"/><ellipse cx="554" cy="3209" rx="21" ry="24" transform="rotate(2 554 3209)"/><ellipse cx="272" cy="2835" rx="23" ry="43" transform="rotate(83 272 2835)"/><ellipse cx="234" cy="2711" rx="25" ry="36" transform="rotate(180 234 2711)"/><ellipse cx="157" cy="2733" rx="21" ry="43" transform="rotate(168 157 2733)"/><ellipse cx="508" cy="3110" rx="18" ry="29" transform="rotate(145 508 3110)"/><ellipse cx="325" cy="3119" rx="25" ry="37" transform="rotate(143 325 3119)"/><ellipse cx="347" cy="2810" rx="23" ry="35" transform="rotate(120 347 2810)"/><ellipse cx="478" cy="3233" rx="16" ry="30" transform="rotate(170 478 3233)"/><ellipse cx="419" cy="3077" rx="27" ry="34" transform="rotate(51 419 3077)"/><ellipse cx="498" cy="2733" rx="14" ry="41" transform="rotate(50 498 2733)"/><ellipse cx="371" cy="3219" rx="19" ry="32" transform="rotate(109 371 3219)"/><ellipse cx="294" cy="2812" rx="23" ry="31" transform="rotate(19 294 2812)"/><ellipse cx="335" cy="3088" rx="20" ry="31" transform="rotate(49 335 3088)"/><ellipse cx="268" cy="3064" rx="20" ry="26" transform="rotate(18 268 3064)"/><ellipse cx="448" cy="2866" rx="21" ry="39" transform="rotate(174 448 2866)"/><ellipse cx="372" cy="3147" rx="23" ry="25" transform="rotate(126 372 3147)"/><ellipse cx="172" cy="3110" rx="28" ry="38" transform="rotate(74 172 3110)"/><ellipse cx="529" cy="3107" rx="23" ry="45" transform="rotate(173 529 3107)"/><ellipse cx="321" cy="2849" rx="18" ry="44" transform="rotate(20 321 2849)"/><ellipse cx="442" cy="2728" rx="20" ry="36" transform="rotate(5 442 2728)"/><ellipse cx="287" cy="2716" rx="26" ry="40" transform="rotate(47 287 2716)"/><ellipse cx="526" cy="2850" rx="17" ry="31" transform="rotate(120 526 2850)"/><ellipse cx="598" cy="2820" rx="17" ry="43" transform="rotate(53 598 2820)"/><ellipse cx="457" cy="3024" rx="20" ry="44" transform="rotate(153 457 3024)"/><ellipse cx="504" cy="2867" rx="22" ry="34" transform="rotate(42 504 2867)"/><ellipse cx="511" cy="3057" rx="22" ry="30" transform="rotate(134 511 3057)"/><ellipse cx="487" cy="3235" rx="24" ry="29" transform="rotate(115 487 3235)"/><ellipse cx="160" cy="2947" rx="24" ry="34" transform="rotate(107 160 2947)"/><ellipse cx="382" cy="2753" rx="16" ry="31" transform="rotate(9 382 2753)"/><ellipse cx="225" cy="2782" rx="19" ry="42" transform="rotate(61 225 2782)"/><ellipse cx="587" cy="3241" rx="14" ry="29" transform="rotate(133 587 3241)"/><ellipse cx="620" cy="3080" rx="17" ry="29" transform="rotate(154 620 3080)"/><ellipse cx="149" cy="2988" rx="21" ry="27" transform="rotate(66 149 2988)"/><ellipse cx="111" cy="2913" rx="23" ry="37" transform="rotate(167 111 2913)"/><ellipse cx="131" cy="2939" rx="23" ry="33" transform="rotate(66 131 2939)"/><ellipse cx="517" cy="2853" rx="14" ry="27" transform="rotate(131 517 2853)"/><ellipse cx="515" cy="3165" rx="17" ry="45" transform="rotate(55 515 3165)"/><ellipse cx="408" cy="2753" rx="22" ry="31" transform="rotate(178 408 2753)"/><ellipse cx="363" cy="2904" rx="20" ry="32" transform="rotate(104 363 2904)"/><ellipse cx="481" cy="2870" rx="24" ry="45" transform="rotate(149 481 2870)"/><ellipse cx="179" cy="3170" rx="17" ry="44" transform="rotate(128 179 3170)"/><ellipse cx="361" cy="2801" rx="28" ry="42" transform="rotate(38 361 2801)"/><ellipse cx="220" cy="3186" rx="24" ry="38" transform="rotate(7 220 3186)"/><ellipse cx="553" cy="3195" rx="26" ry="34" transform="rotate(132 553 3195)"/><ellipse cx="586" cy="2937" rx="25" ry="33" transform="rotate(131 586 2937)"/></g><rect x="98" y="2705" width="523" height="539.5" filter="url(#dark)" opacity="0.14"/><g filter="url(#soft)"><use href="#cb" transform="translate(225,2765) rotate(101)"/><use href="#cb" transform="translate(349,2759) rotate(5)"/><use href="#cb" transform="translate(309,3195) rotate(15)"/><use href="#cb" transform="translate(217,2994) rotate(70)"/><use href="#cb" transform="translate(502,3147) rotate(67)"/><use href="#cb" transform="translate(214,3200) rotate(164)"/><use href="#cb" transform="translate(516,3133) rotate(49)"/><use href="#cb" transform="translate(188,2864) rotate(95)"/><use href="#cb" transform="translate(148,3031) rotate(171)"/><use href="#cb" transform="translate(302,2842) rotate(63)"/><use href="#cb" transform="translate(346,2758) rotate(140)"/><use href="#cb" transform="translate(533,2715) rotate(74)"/><use href="#cb" transform="translate(396,3176) rotate(130)"/><use href="#cb" transform="translate(204,2935) rotate(73)"/><use href="#cb" transform="translate(324,2796) rotate(78)"/><use href="#cb" transform="translate(237,3132) rotate(20)"/><use href="#cb" transform="translate(128,3041) rotate(71)"/><use href="#cb" transform="translate(369,3053) rotate(179)"/><use href="#cb" transform="translate(279,3237) rotate(50)"/><use href="#cb" transform="translate(138,3193) rotate(162)"/><use href="#cb" transform="translate(427,2857) rotate(91)"/><use href="#cb" transform="translate(327,3022) rotate(162)"/><use href="#cb" transform="translate(389,3188) rotate(25)"/><use href="#cb" transform="translate(533,3085) rotate(71)"/><use href="#cb" transform="translate(495,3036) rotate(60)"/><use href="#cb" transform="translate(166,3204) rotate(74)"/><use href="#cb" transform="translate(339,2734) rotate(178)"/><use href="#cb" transform="translate(146,3220) rotate(73)"/><use href="#cb" transform="translate(480,3217) rotate(4)"/><use href="#cb" transform="translate(269,2881) rotate(39)"/></g></g></g>
<g clip-path="url(#cp4)"><g filter="url(#grain)"><g filter="url(#bl)"><rect x="535.0" y="2615.0" width="220.8" height="225.4" fill="#5a514a"/><rect x="755.2" y="2615.0" width="130.8" height="225.4" fill="#564d46"/><rect x="885.5" y="2615.0" width="130.8" height="225.4" fill="#544b44"/><rect x="1015.8" y="2615.0" width="220.8" height="225.4" fill="#554c45"/><rect x="535.0" y="2839.9" width="220.8" height="135.4" fill="#584f48"/><rect x="755.2" y="2839.9" width="130.8" height="135.4" fill="#483f38"/><rect x="885.5" y="2839.9" width="130.8" height="135.4" fill="#463d36"/><rect x="1015.8" y="2839.9" width="220.8" height="135.4" fill="#554c45"/><rect x="535.0" y="2974.8" width="220.8" height="135.4" fill="#564d46"/><rect x="755.2" y="2974.8" width="130.8" height="135.4" fill="#423932"/><rect x="885.5" y="2974.8" width="130.8" height="135.4" fill="#403730"/><rect x="1015.8" y="2974.8" width="220.8" height="135.4" fill="#524942"/><rect x="535.0" y="3109.6" width="220.8" height="225.4" fill="#564d46"/><rect x="755.2" y="3109.6" width="130.8" height="225.4" fill="#4e453e"/><rect x="885.5" y="3109.6" width="130.8" height="225.4" fill="#4c433c"/><rect x="1015.8" y="3109.6" width="220.8" height="225.4" fill="#524942"/></g><rect x="625" y="2705" width="521" height="539.5" filter="url(#lines)" opacity="0.12"/><rect x="625" y="2705" width="521" height="539.5" filter="url(#dark)" opacity="0.14"/><g filter="url(#soft)"><use href="#cs" transform="translate(1042,3237) rotate(118)"/><use href="#cs" transform="translate(987,3206) rotate(134)"/><use href="#cs" transform="translate(659,2987) rotate(150)"/><use href="#cs" transform="translate(1098,3003) rotate(75)"/><use href="#cs" transform="translate(1139,2796) rotate(23)"/><use href="#cs" transform="translate(659,2863) rotate(92)"/><use href="#cs" transform="translate(800,3171) rotate(179)"/><use href="#cs" transform="translate(992,2798) rotate(81)"/><use href="#cs" transform="translate(1012,2838) rotate(160)"/><use href="#cs" transform="translate(966,2820) rotate(123)"/><use href="#cs" transform="translate(650,3167) rotate(153)"/><use href="#cs" transform="translate(720,2827) rotate(60)"/><use href="#cs" transform="translate(1116,3137) rotate(64)"/><use href="#cs" transform="translate(758,3213) rotate(14)"/><use href="#cs" transform="translate(780,3190) rotate(126)"/><use href="#cs" transform="translate(968,3223) rotate(144)"/><use href="#cs" transform="translate(1110,2863) rotate(105)"/><use href="#cs" transform="translate(737,2775) rotate(38)"/><use href="#cs" transform="translate(672,3073) rotate(36)"/><use href="#cs" transform="translate(944,2994) rotate(43)"/><use href="#cs" transform="translate(1012,2749) rotate(124)"/><use href="#cs" transform="translate(1105,2715) rotate(70)"/><use href="#cs" transform="translate(999,3173) rotate(37)"/><use href="#cs" transform="translate(690,3150) rotate(136)"/><use href="#cs" transform="translate(685,2739) rotate(127)"/><use href="#cs" transform="translate(743,3190) rotate(125)"/><use href="#cs" transform="translate(1021,3241) rotate(128)"/><use href="#cs" transform="translate(971,3221) rotate(91)"/><use href="#cs" transform="translate(646,2921) rotate(78)"/><use href="#cs" transform="translate(1072,3080) rotate(71)"/><use href="#cs" transform="translate(1089,2764) rotate(176)"/><use href="#cs" transform="translate(637,2770) rotate(87)"/><use href="#cs" transform="translate(759,3155) rotate(2)"/><use href="#cs" transform="translate(969,2812) rotate(83)"/><use href="#cs" transform="translate(1015,2769) rotate(128)"/><use href="#cs" transform="translate(914,2751) rotate(89)"/><use href="#cs" transform="translate(642,3184) rotate(104)"/><use href="#cs" transform="translate(716,2873) rotate(176)"/><use href="#cs" transform="translate(1094,3168) rotate(85)"/><use href="#cs" transform="translate(752,3202) rotate(42)"/><use href="#cs" transform="translate(751,3218) rotate(122)"/><use href="#cs" transform="translate(975,3218) rotate(171)"/><use href="#cs" transform="translate(1073,2858) rotate(148)"/><use href="#cs" transform="translate(654,2751) rotate(77)"/><use href="#cs" transform="translate(615,3032) rotate(163)"/><use href="#cs" transform="translate(1027,3051) rotate(50)"/><use href="#cs" transform="translate(999,2777) rotate(166)"/><use href="#cs" transform="translate(1133,2776) rotate(46)"/><use href="#cs" transform="translate(1000,3141) rotate(120)"/><use href="#cs" transform="translate(669,3116) rotate(34)"/><use href="#cs" transform="translate(702,2792) rotate(123)"/><use href="#cs" transform="translate(734,3209) rotate(119)"/><use href="#cs" transform="translate(1005,3227) rotate(18)"/><use href="#cs" transform="translate(985,3175) rotate(95)"/><use href="#cs" transform="translate(685,2958) rotate(71)"/><use href="#cs" transform="translate(1131,3008) rotate(176)"/><use href="#cs" transform="translate(1091,2760) rotate(9)"/><use href="#cs" transform="translate(630,2826) rotate(75)"/><use href="#cs" transform="translate(757,3176) rotate(148)"/><use href="#cs" transform="translate(1007,2828) rotate(33)"/><use href="#cs" transform="translate(987,2817) rotate(164)"/><use href="#cs" transform="translate(914,2781) rotate(40)"/><use href="#cs" transform="translate(618,3141) rotate(50)"/><use href="#cs" transform="translate(781,2826) rotate(89)"/><use href="#cs" transform="translate(1134,3126) rotate(97)"/><use href="#cs" transform="translate(810,3226) rotate(157)"/><use href="#cs" transform="translate(721,3189) rotate(144)"/><use href="#cs" transform="translate(958,3227) rotate(57)"/><use href="#cs" transform="translate(1045,2875) rotate(97)"/><use href="#cs" transform="translate(677,2792) rotate(40)"/><use href="#cs" transform="translate(630,3052) rotate(77)"/><use href="#cs" transform="translate(1012,2966) rotate(81)"/><use href="#cs" transform="translate(1005,2746) rotate(73)"/><use href="#cs" transform="translate(1118,2741) rotate(168)"/><use href="#cs" transform="translate(985,3128) rotate(75)"/><use href="#cs" transform="translate(667,3122) rotate(100)"/><use href="#cs" transform="translate(681,2751) rotate(70)"/><use href="#cs" transform="translate(733,3232) rotate(9)"/><use href="#cs" transform="translate(1028,3216) rotate(39)"/><use href="#cs" transform="translate(997,3165) rotate(126)"/><use href="#cs" transform="translate(636,2939) rotate(165)"/><use href="#cs" transform="translate(1134,3009) rotate(30)"/><use href="#cs" transform="translate(1092,2783) rotate(72)"/><use href="#cs" transform="translate(628,2828) rotate(75)"/><use href="#cs" transform="translate(779,3177) rotate(89)"/><use href="#cs" transform="translate(986,2838) rotate(151)"/><use href="#cs" transform="translate(1030,2796) rotate(141)"/><use href="#cs" transform="translate(886,2804) rotate(175)"/><use href="#cs" transform="translate(642,3159) rotate(109)"/><use href="#cs" transform="translate(713,2810) rotate(161)"/><use href="#cs" transform="translate(1087,3119) rotate(98)"/><use href="#cs" transform="translate(745,3211) rotate(50)"/><use href="#cs" transform="translate(767,3178) rotate(16)"/><use href="#cs" transform="translate(977,3210) rotate(110)"/><use href="#cs" transform="translate(1042,2856) rotate(120)"/><use href="#cs" transform="translate(727,2750) rotate(122)"/><use href="#cs" transform="translate(628,3012) rotate(84)"/><use href="#cs" transform="translate(1012,2959) rotate(138)"/><use href="#cs" transform="translate(988,2744) rotate(58)"/><use href="#cs" transform="translate(1113,2747) rotate(16)"/><use href="#cs" transform="translate(1003,3142) rotate(109)"/><use href="#cs" transform="translate(746,3106) rotate(179)"/><use href="#cs" transform="translate(636,2749) rotate(31)"/><use href="#cs" transform="translate(739,3239) rotate(28)"/><use href="#cs" transform="translate(1024,3182) rotate(74)"/><use href="#cs" transform="translate(993,3159) rotate(46)"/><use href="#cs" transform="translate(638,2940) rotate(41)"/><use href="#cs" transform="translate(1115,3057) rotate(142)"/><use href="#cs" transform="translate(1098,2798) rotate(18)"/><use href="#cs" transform="translate(645,2866) rotate(30)"/><use href="#cs" transform="translate(777,3129) rotate(34)"/><use href="#cs" transform="translate(1025,2805) rotate(175)"/><use href="#cs" transform="translate(1004,2777) rotate(167)"/><use href="#cs" transform="translate(936,2795) rotate(178)"/><use href="#cs" transform="translate(637,3193) rotate(173)"/><use href="#cs" transform="translate(689,2831) rotate(142)"/><use href="#cs" transform="translate(1100,3155) rotate(16)"/><use href="#cs" transform="translate(765,3199) rotate(72)"/><use href="#cs" transform="translate(730,3194) rotate(60)"/><use href="#cs" transform="translate(996,3186) rotate(99)"/><use href="#cs" transform="translate(1093,2911) rotate(167)"/><use href="#cs" transform="translate(697,2786) rotate(9)"/><use href="#cs" transform="translate(658,3071) rotate(152)"/><use href="#cs" transform="translate(1014,2973) rotate(118)"/><use href="#cs" transform="translate(961,2756) rotate(135)"/><use href="#cs" transform="translate(1155,2744) rotate(13)"/><use href="#cs" transform="translate(1042,3096) rotate(109)"/><use href="#cs" transform="translate(646,3102) rotate(29)"/><use href="#cs" transform="translate(699,2777) rotate(125)"/><use href="#cs" transform="translate(738,3189) rotate(159)"/><use href="#cs" transform="translate(992,3231) rotate(74)"/><use href="#cs" transform="translate(983,3217) rotate(89)"/><use href="#cs" transform="translate(666,2933) rotate(91)"/><use href="#cs" transform="translate(1071,3012) rotate(110)"/><use href="#cs" transform="translate(1102,2776) rotate(9)"/><use href="#cs" transform="translate(623,2815) rotate(46)"/><use href="#cs" transform="translate(770,3190) rotate(8)"/><use href="#cs" transform="translate(1020,2821) rotate(125)"/><use href="#cs" transform="translate(1051,2775) rotate(89)"/><use href="#cs" transform="translate(971,2788) rotate(158)"/><use href="#cs" transform="translate(666,3149) rotate(118)"/><use href="#cs" transform="translate(758,2841) rotate(40)"/><use href="#cs" transform="translate(1165,3183) rotate(120)"/><use href="#cs" transform="translate(796,3222) rotate(71)"/><use href="#cs" transform="translate(762,3156) rotate(172)"/><use href="#cs" transform="translate(980,3237) rotate(8)"/><use href="#cs" transform="translate(1051,2910) rotate(80)"/><use href="#cs" transform="translate(752,2742) rotate(172)"/><use href="#cs" transform="translate(598,3077) rotate(39)"/><use href="#cs" transform="translate(1067,2991) rotate(74)"/><use href="#cs" transform="translate(965,2759) rotate(41)"/><use href="#cs" transform="translate(1154,2745) rotate(147)"/><use href="#cs" transform="translate(1007,3157) rotate(102)"/><use href="#cs" transform="translate(688,3097) rotate(174)"/><use href="#cs" transform="translate(638,2775) rotate(72)"/><use href="#cs" transform="translate(807,3236) rotate(119)"/><use href="#cs" transform="translate(1037,3212) rotate(172)"/><use href="#cs" transform="translate(1003,3193) rotate(155)"/><use href="#cs" transform="translate(595,2987) rotate(1)"/><use href="#cs" transform="translate(1071,3056) rotate(174)"/><use href="#cs" transform="translate(1072,2786) rotate(140)"/><use href="#cs" transform="translate(677,2791) rotate(144)"/><use href="#cs" transform="translate(773,3192) rotate(18)"/><use href="#cs" transform="translate(1017,2851) rotate(23)"/><use href="#cs" transform="translate(1036,2791) rotate(62)"/><use href="#cs" transform="translate(923,2764) rotate(15)"/><use href="#cs" transform="translate(693,3175) rotate(114)"/><use href="#cs" transform="translate(743,2841) rotate(9)"/><use href="#cs" transform="translate(1134,3155) rotate(178)"/><use href="#cs" transform="translate(758,3204) rotate(136)"/><use href="#cs" transform="translate(750,3254) rotate(27)"/><use href="#cs" transform="translate(1042,3247) rotate(41)"/><use href="#cs" transform="translate(1033,2845) rotate(54)"/><use href="#cs" transform="translate(695,2738) rotate(91)"/><use href="#cs" transform="translate(613,3066) rotate(96)"/><use href="#cs" transform="translate(1025,2963) rotate(3)"/><use href="#cs" transform="translate(1003,2742) rotate(114)"/><use href="#cs" transform="translate(1195,2671) rotate(141)"/><use href="#cs" transform="translate(1022,3162) rotate(22)"/><use href="#cs" transform="translate(657,3098) rotate(103)"/><use href="#cs" transform="translate(644,2761) rotate(20)"/><use href="#cs" transform="translate(692,3209) rotate(109)"/><use href="#cs" transform="translate(1065,3188) rotate(70)"/><use href="#cs" transform="translate(1038,3201) rotate(12)"/><use href="#cs" transform="translate(646,2913) rotate(95)"/><use href="#cs" transform="translate(1106,3043) rotate(80)"/><use href="#cs" transform="translate(1046,2812) rotate(0)"/><use href="#cs" transform="translate(681,2810) rotate(33)"/><use href="#cs" transform="translate(754,3170) rotate(176)"/><use href="#cs" transform="translate(977,2751) rotate(12)"/><use href="#cs" transform="translate(1022,2775) rotate(97)"/><use href="#cs" transform="translate(921,2780) rotate(78)"/><use href="#cs" transform="translate(656,3178) rotate(173)"/><use href="#cs" transform="translate(743,2839) rotate(138)"/><use href="#cs" transform="translate(1120,3128) rotate(7)"/><use href="#cs" transform="translate(834,3253) rotate(91)"/><use href="#cs" transform="translate(725,3203) rotate(156)"/><use href="#cs" transform="translate(1009,3211) rotate(32)"/><use href="#cs" transform="translate(1060,2892) rotate(3)"/><use href="#cs" transform="translate(734,2788) rotate(41)"/><use href="#cs" transform="translate(645,3052) rotate(135)"/><use href="#cs" transform="translate(1010,2942) rotate(36)"/><use href="#cs" transform="translate(926,2774) rotate(109)"/><use href="#cs" transform="translate(1131,2752) rotate(58)"/><use href="#cs" transform="translate(979,3154) rotate(113)"/><use href="#cs" transform="translate(691,3130) rotate(41)"/><use href="#cs" transform="translate(582,2734) rotate(152)"/><use href="#cs" transform="translate(746,3202) rotate(107)"/><use href="#cs" transform="translate(1020,3179) rotate(0)"/><use href="#cs" transform="translate(1034,3193) rotate(123)"/><use href="#cs" transform="translate(652,2934) rotate(118)"/><use href="#cs" transform="translate(1103,3070) rotate(51)"/><use href="#cs" transform="translate(1068,2811) rotate(61)"/><use href="#cs" transform="translate(620,2868) rotate(169)"/><use href="#cs" transform="translate(807,3140) rotate(158)"/><use href="#cs" transform="translate(989,2806) rotate(36)"/><use href="#cs" transform="translate(1043,2768) rotate(9)"/><use href="#cs" transform="translate(964,2803) rotate(72)"/><use href="#cs" transform="translate(660,3150) rotate(82)"/><use href="#cs" transform="translate(717,2837) rotate(136)"/><use href="#cs" transform="translate(1084,3128) rotate(96)"/><use href="#cs" transform="translate(780,3194) rotate(154)"/><use href="#cs" transform="translate(729,3186) rotate(99)"/><use href="#cs" transform="translate(1016,3213) rotate(156)"/><use href="#cs" transform="translate(1065,2898) rotate(121)"/><use href="#cs" transform="translate(677,2746) rotate(115)"/><use href="#cs" transform="translate(694,3058) rotate(177)"/><use href="#cs" transform="translate(1030,2962) rotate(37)"/><use href="#cs" transform="translate(991,2730) rotate(151)"/><use href="#cs" transform="translate(1158,2742) rotate(52)"/><use href="#cs" transform="translate(1003,3157) rotate(22)"/><use href="#cs" transform="translate(659,3083) rotate(105)"/><use href="#cs" transform="translate(628,2804) rotate(70)"/><use href="#cs" transform="translate(749,3194) rotate(9)"/><use href="#cs" transform="translate(1028,3157) rotate(76)"/><use href="#cs" transform="translate(1033,3162) rotate(155)"/><use href="#cs" transform="translate(645,2946) rotate(132)"/><use href="#cs" transform="translate(1110,3056) rotate(87)"/><use href="#cs" transform="translate(1111,2776) rotate(100)"/><use href="#cs" transform="translate(689,2826) rotate(96)"/><use href="#cs" transform="translate(796,3217) rotate(53)"/><use href="#cs" transform="translate(1044,2786) rotate(98)"/><use href="#cs" transform="translate(1006,2839) rotate(141)"/><use href="#cs" transform="translate(914,2719) rotate(63)"/><use href="#cs" transform="translate(659,3149) rotate(78)"/><use href="#cs" transform="translate(759,2788) rotate(19)"/><use href="#cs" transform="translate(1130,3151) rotate(161)"/><use href="#cs" transform="translate(770,3214) rotate(167)"/><use href="#cs" transform="translate(775,3208) rotate(163)"/><use href="#cs" transform="translate(1008,3179) rotate(106)"/><use href="#cs" transform="translate(1078,2904) rotate(152)"/><use href="#cs" transform="translate(733,2745) rotate(71)"/><use href="#cs" transform="translate(694,3091) rotate(84)"/><use href="#cs" transform="translate(1041,2971) rotate(29)"/><use href="#cs" transform="translate(975,2785) rotate(144)"/><use href="#cs" transform="translate(1121,2752) rotate(152)"/><use href="#cs" transform="translate(1042,3174) rotate(84)"/><use href="#cs" transform="translate(652,3109) rotate(124)"/><use href="#cs" transform="translate(670,2772) rotate(18)"/><use href="#cs" transform="translate(711,3248) rotate(165)"/><use href="#cs" transform="translate(986,3233) rotate(178)"/><use href="#cs" transform="translate(966,3155) rotate(25)"/><use href="#cs" transform="translate(698,2958) rotate(28)"/><use href="#cs" transform="translate(1111,3057) rotate(157)"/><use href="#cs" transform="translate(1081,2748) rotate(112)"/><use href="#cs" transform="translate(647,2786) rotate(46)"/><use href="#cs" transform="translate(766,3125) rotate(148)"/><use href="#cs" transform="translate(966,2757) rotate(26)"/><use href="#cs" transform="translate(997,2830) rotate(50)"/><use href="#cs" transform="translate(949,2813) rotate(117)"/><use href="#cs" transform="translate(706,3111) rotate(21)"/><use href="#cs" transform="translate(747,2895) rotate(119)"/><use href="#cs" transform="translate(1108,3170) rotate(152)"/><use href="#cs" transform="translate(798,3202) rotate(0)"/><use href="#cs" transform="translate(677,3197) rotate(18)"/><use href="#cs" transform="translate(916,3211) rotate(75)"/><use href="#cs" transform="translate(1122,2879) rotate(90)"/><use href="#cs" transform="translate(715,2740) rotate(87)"/><use href="#cs" transform="translate(631,3078) rotate(127)"/><use href="#cs" transform="translate(1011,2931) rotate(22)"/><use href="#cs" transform="translate(965,2744) rotate(86)"/><use href="#cs" transform="translate(1123,2733) rotate(110)"/><use href="#cs" transform="translate(1031,3155) rotate(60)"/><use href="#cs" transform="translate(648,3160) rotate(37)"/><use href="#cs" transform="translate(648,2760) rotate(122)"/><use href="#cs" transform="translate(717,3209) rotate(98)"/><use href="#cs" transform="translate(1039,3180) rotate(115)"/><use href="#cs" transform="translate(972,3223) rotate(1)"/><use href="#cs" transform="translate(665,2945) rotate(4)"/><use href="#cs" transform="translate(1132,3054) rotate(98)"/><use href="#cs" transform="translate(1085,2774) rotate(55)"/><use href="#cs" transform="translate(668,2877) rotate(3)"/><use href="#cs" transform="translate(769,3185) rotate(71)"/><use href="#cs" transform="translate(973,2776) rotate(120)"/><use href="#cs" transform="translate(1020,2794) rotate(100)"/><use href="#cs" transform="translate(946,2758) rotate(151)"/><use href="#cs" transform="translate(681,3146) rotate(158)"/><use href="#cs" transform="translate(741,2827) rotate(6)"/><use href="#cs" transform="translate(1081,3180) rotate(110)"/><use href="#cs" transform="translate(806,3192) rotate(42)"/><use href="#cs" transform="translate(755,3186) rotate(48)"/><use href="#cs" transform="translate(916,3240) rotate(94)"/><use href="#cs" transform="translate(1081,2901) rotate(69)"/><use href="#cs" transform="translate(731,2777) rotate(0)"/><use href="#cs" transform="translate(640,3052) rotate(43)"/><use href="#cs" transform="translate(1039,2955) rotate(175)"/><use href="#cs" transform="translate(943,2791) rotate(38)"/><use href="#cs" transform="translate(1116,2741) rotate(126)"/><use href="#cs" transform="translate(1040,3138) rotate(34)"/><use href="#cs" transform="translate(643,3121) rotate(93)"/><use href="#cs" transform="translate(655,2746) rotate(47)"/><use href="#cs" transform="translate(736,3192) rotate(33)"/><use href="#cs" transform="translate(1028,3171) rotate(54)"/><use href="#cs" transform="translate(1019,3211) rotate(179)"/><use href="#cs" transform="translate(639,2950) rotate(27)"/><use href="#cs" transform="translate(1083,3029) rotate(94)"/><use href="#cs" transform="translate(1106,2763) rotate(113)"/><use href="#cs" transform="translate(670,2829) rotate(145)"/><use href="#cs" transform="translate(783,3186) rotate(3)"/><use href="#cs" transform="translate(1012,2791) rotate(123)"/></g></g></g>
<g clip-path="url(#cp5)"><g filter="url(#grain)"><g filter="url(#bl)"><rect x="1058.0" y="2615.0" width="218.8" height="225.4" fill="#493e3a"/><rect x="1276.2" y="2615.0" width="128.8" height="225.4" fill="#483d39"/><rect x="1404.5" y="2615.0" width="128.8" height="225.4" fill="#473c38"/><rect x="1532.8" y="2615.0" width="218.8" height="225.4" fill="#473c38"/><rect x="1058.0" y="2839.9" width="218.8" height="135.4" fill="#473c38"/><rect x="1276.2" y="2839.9" width="128.8" height="135.4" fill="#473c38"/><rect x="1404.5" y="2839.9" width="128.8" height="135.4" fill="#473c38"/><rect x="1532.8" y="2839.9" width="218.8" height="135.4" fill="#473c38"/><rect x="1058.0" y="2974.8" width="218.8" height="135.4" fill="#473c38"/><rect x="1276.2" y="2974.8" width="128.8" height="135.4" fill="#473c38"/><rect x="1404.5" y="2974.8" width="128.8" height="135.4" fill="#473c38"/><rect x="1532.8" y="2974.8" width="218.8" height="135.4" fill="#473c38"/><rect x="1058.0" y="3109.6" width="218.8" height="225.4" fill="#473c38"/><rect x="1276.2" y="3109.6" width="128.8" height="225.4" fill="#473c38"/><rect x="1404.5" y="3109.6" width="128.8" height="225.4" fill="#473c38"/><rect x="1532.8" y="3109.6" width="218.8" height="225.4" fill="#473c38"/></g><rect x="1148" y="2705" width="513" height="539.5" filter="url(#lines)" opacity="0.1"/><rect x="1148" y="2705" width="513" height="539.5" filter="url(#dark)" opacity="0.14"/><g filter="url(#soft)"><use href="#cs" transform="translate(1572,3161) rotate(79)"/><use href="#cs" transform="translate(1393,2831) rotate(57)"/><use href="#cs" transform="translate(1180,3070) rotate(178)"/><use href="#cs" transform="translate(1374,3102) rotate(43)"/><use href="#cs" transform="translate(1368,3112) rotate(171)"/><use href="#cs" transform="translate(1281,3110) rotate(96)"/><use href="#cs" transform="translate(1492,2928) rotate(173)"/><use href="#cs" transform="translate(1431,3066) rotate(108)"/><use href="#cs" transform="translate(1182,2950) rotate(24)"/><use href="#cs" transform="translate(1568,2855) rotate(22)"/><use href="#cs" transform="translate(1578,3043) rotate(114)"/><use href="#cs" transform="translate(1521,2909) rotate(19)"/><use href="#cs" transform="translate(1183,3122) rotate(104)"/><use href="#cs" transform="translate(1564,2941) rotate(174)"/><use href="#cs" transform="translate(1209,2853) rotate(44)"/><use href="#cs" transform="translate(1500,2874) rotate(64)"/><use href="#cs" transform="translate(1597,3006) rotate(65)"/><use href="#cs" transform="translate(1240,3052) rotate(132)"/><use href="#cs" transform="translate(1338,3218) rotate(107)"/><use href="#cs" transform="translate(1583,2969) rotate(121)"/><use href="#cs" transform="translate(1456,3048) rotate(96)"/><use href="#cs" transform="translate(1512,3213) rotate(119)"/><use href="#cs" transform="translate(1164,2940) rotate(158)"/><use href="#cs" transform="translate(1427,2902) rotate(81)"/><use href="#cs" transform="translate(1404,2714) rotate(40)"/><use href="#cs" transform="translate(1604,2979) rotate(1)"/><use href="#cs" transform="translate(1495,3088) rotate(46)"/><use href="#cs" transform="translate(1441,2864) rotate(28)"/><use href="#cs" transform="translate(1158,3033) rotate(127)"/><use href="#cs" transform="translate(1396,3097) rotate(49)"/><use href="#cs" transform="translate(1356,3127) rotate(3)"/><use href="#cs" transform="translate(1257,3147) rotate(134)"/><use href="#cs" transform="translate(1484,2933) rotate(25)"/><use href="#cs" transform="translate(1377,3114) rotate(174)"/><use href="#cs" transform="translate(1234,2976) rotate(36)"/><use href="#cs" transform="translate(1586,2867) rotate(26)"/><use href="#cs" transform="translate(1576,3076) rotate(17)"/><use href="#cs" transform="translate(1540,2863) rotate(32)"/><use href="#cs" transform="translate(1168,3085) rotate(41)"/><use href="#cs" transform="translate(1506,2909) rotate(167)"/><use href="#cs" transform="translate(1174,2835) rotate(163)"/><use href="#cs" transform="translate(1509,2918) rotate(112)"/><use href="#cs" transform="translate(1590,3023) rotate(142)"/><use href="#cs" transform="translate(1256,3093) rotate(16)"/><use href="#cs" transform="translate(1349,3172) rotate(93)"/><use href="#cs" transform="translate(1584,3042) rotate(21)"/><use href="#cs" transform="translate(1452,3073) rotate(70)"/><use href="#cs" transform="translate(1576,3207) rotate(95)"/><use href="#cs" transform="translate(1192,2908) rotate(154)"/><use href="#cs" transform="translate(1432,2852) rotate(8)"/><use href="#cs" transform="translate(1445,2746) rotate(8)"/><use href="#cs" transform="translate(1662,3014) rotate(53)"/><use href="#cs" transform="translate(1536,3113) rotate(19)"/><use href="#cs" transform="translate(1419,2888) rotate(102)"/><use href="#cs" transform="translate(1140,3048) rotate(126)"/><use href="#cs" transform="translate(1382,3094) rotate(89)"/><use href="#cs" transform="translate(1338,3109) rotate(134)"/><use href="#cs" transform="translate(1293,3110) rotate(38)"/><use href="#cs" transform="translate(1463,2929) rotate(57)"/><use href="#cs" transform="translate(1460,3052) rotate(32)"/><use href="#cs" transform="translate(1246,3009) rotate(81)"/><use href="#cs" transform="translate(1582,2856) rotate(1)"/><use href="#cs" transform="translate(1556,3035) rotate(48)"/><use href="#cs" transform="translate(1571,2842) rotate(134)"/><use href="#cs" transform="translate(1188,3134) rotate(135)"/><use href="#cs" transform="translate(1512,2935) rotate(59)"/><use href="#cs" transform="translate(1184,2786) rotate(95)"/><use href="#cs" transform="translate(1466,2887) rotate(38)"/><use href="#cs" transform="translate(1637,3050) rotate(98)"/><use href="#cs" transform="translate(1267,3054) rotate(120)"/><use href="#cs" transform="translate(1339,3178) rotate(138)"/><use href="#cs" transform="translate(1618,2997) rotate(8)"/><use href="#cs" transform="translate(1490,3080) rotate(104)"/><use href="#cs" transform="translate(1554,3246) rotate(75)"/><use href="#cs" transform="translate(1190,2911) rotate(146)"/><use href="#cs" transform="translate(1463,2865) rotate(169)"/><use href="#cs" transform="translate(1386,2795) rotate(179)"/><use href="#cs" transform="translate(1593,2986) rotate(7)"/><use href="#cs" transform="translate(1543,3097) rotate(108)"/><use href="#cs" transform="translate(1385,2838) rotate(113)"/><use href="#cs" transform="translate(1174,3104) rotate(167)"/><use href="#cs" transform="translate(1399,3059) rotate(54)"/><use href="#cs" transform="translate(1344,3114) rotate(134)"/><use href="#cs" transform="translate(1308,3084) rotate(175)"/><use href="#cs" transform="translate(1498,2959) rotate(149)"/><use href="#cs" transform="translate(1417,3062) rotate(93)"/><use href="#cs" transform="translate(1253,2984) rotate(7)"/><use href="#cs" transform="translate(1523,2888) rotate(87)"/><use href="#cs" transform="translate(1503,3087) rotate(13)"/><use href="#cs" transform="translate(1564,2898) rotate(86)"/><use href="#cs" transform="translate(1214,3126) rotate(67)"/><use href="#cs" transform="translate(1578,2966) rotate(69)"/><use href="#cs" transform="translate(1214,2837) rotate(139)"/><use href="#cs" transform="translate(1498,2935) rotate(98)"/><use href="#cs" transform="translate(1645,3016) rotate(132)"/><use href="#cs" transform="translate(1242,3031) rotate(69)"/><use href="#cs" transform="translate(1338,3213) rotate(8)"/><use href="#cs" transform="translate(1608,3009) rotate(45)"/><use href="#cs" transform="translate(1417,3045) rotate(0)"/><use href="#cs" transform="translate(1536,3212) rotate(151)"/><use href="#cs" transform="translate(1158,2924) rotate(135)"/><use href="#cs" transform="translate(1456,2845) rotate(120)"/><use href="#cs" transform="translate(1455,2806) rotate(99)"/><use href="#cs" transform="translate(1617,3035) rotate(2)"/><use href="#cs" transform="translate(1533,3152) rotate(34)"/><use href="#cs" transform="translate(1390,2889) rotate(173)"/><use href="#cs" transform="translate(1166,3058) rotate(78)"/><use href="#cs" transform="translate(1402,3128) rotate(158)"/><use href="#cs" transform="translate(1351,3051) rotate(22)"/><use href="#cs" transform="translate(1306,3151) rotate(37)"/><use href="#cs" transform="translate(1449,2924) rotate(133)"/><use href="#cs" transform="translate(1355,3055) rotate(93)"/><use href="#cs" transform="translate(1276,2986) rotate(151)"/><use href="#cs" transform="translate(1533,2871) rotate(169)"/><use href="#cs" transform="translate(1551,3058) rotate(33)"/><use href="#cs" transform="translate(1601,2902) rotate(156)"/><use href="#cs" transform="translate(1209,3110) rotate(129)"/><use href="#cs" transform="translate(1503,2946) rotate(22)"/><use href="#cs" transform="translate(1254,2849) rotate(31)"/><use href="#cs" transform="translate(1473,2894) rotate(62)"/><use href="#cs" transform="translate(1626,3034) rotate(160)"/><use href="#cs" transform="translate(1284,3073) rotate(117)"/><use href="#cs" transform="translate(1308,3162) rotate(34)"/><use href="#cs" transform="translate(1553,2995) rotate(146)"/><use href="#cs" transform="translate(1463,3084) rotate(85)"/><use href="#cs" transform="translate(1509,3172) rotate(70)"/><use href="#cs" transform="translate(1182,2896) rotate(167)"/><use href="#cs" transform="translate(1534,2892) rotate(116)"/><use href="#cs" transform="translate(1445,2773) rotate(25)"/><use href="#cs" transform="translate(1557,3012) rotate(26)"/><use href="#cs" transform="translate(1539,3084) rotate(36)"/><use href="#cs" transform="translate(1405,2843) rotate(170)"/><use href="#cs" transform="translate(1171,3013) rotate(4)"/><use href="#cs" transform="translate(1442,3086) rotate(38)"/><use href="#cs" transform="translate(1367,3127) rotate(3)"/><use href="#cs" transform="translate(1346,3087) rotate(32)"/><use href="#cs" transform="translate(1500,2905) rotate(18)"/><use href="#cs" transform="translate(1397,3069) rotate(50)"/><use href="#cs" transform="translate(1281,2926) rotate(43)"/><use href="#cs" transform="translate(1530,2865) rotate(138)"/><use href="#cs" transform="translate(1551,3046) rotate(176)"/><use href="#cs" transform="translate(1589,2874) rotate(11)"/><use href="#cs" transform="translate(1192,3125) rotate(159)"/><use href="#cs" transform="translate(1580,2942) rotate(126)"/><use href="#cs" transform="translate(1194,2817) rotate(9)"/><use href="#cs" transform="translate(1446,2917) rotate(146)"/><use href="#cs" transform="translate(1613,3033) rotate(14)"/><use href="#cs" transform="translate(1260,3074) rotate(95)"/><use href="#cs" transform="translate(1347,3232) rotate(152)"/><use href="#cs" transform="translate(1646,2983) rotate(91)"/><use href="#cs" transform="translate(1452,3062) rotate(122)"/><use href="#cs" transform="translate(1565,3204) rotate(98)"/><use href="#cs" transform="translate(1209,2882) rotate(31)"/><use href="#cs" transform="translate(1446,2868) rotate(110)"/><use href="#cs" transform="translate(1498,2788) rotate(52)"/><use href="#cs" transform="translate(1568,2974) rotate(163)"/><use href="#cs" transform="translate(1552,3135) rotate(169)"/><use href="#cs" transform="translate(1367,2817) rotate(64)"/><use href="#cs" transform="translate(1131,3051) rotate(92)"/><use href="#cs" transform="translate(1382,3131) rotate(94)"/><use href="#cs" transform="translate(1381,3134) rotate(106)"/><use href="#cs" transform="translate(1309,3116) rotate(71)"/><use href="#cs" transform="translate(1542,2943) rotate(169)"/><use href="#cs" transform="translate(1432,3065) rotate(170)"/><use href="#cs" transform="translate(1281,3020) rotate(136)"/><use href="#cs" transform="translate(1582,2879) rotate(90)"/><use href="#cs" transform="translate(1568,3068) rotate(79)"/><use href="#cs" transform="translate(1552,2914) rotate(19)"/><use href="#cs" transform="translate(1211,3104) rotate(126)"/><use href="#cs" transform="translate(1530,2954) rotate(79)"/><use href="#cs" transform="translate(1213,2828) rotate(13)"/><use href="#cs" transform="translate(1473,2838) rotate(97)"/><use href="#cs" transform="translate(1644,3056) rotate(164)"/><use href="#cs" transform="translate(1238,3017) rotate(3)"/><use href="#cs" transform="translate(1375,3220) rotate(34)"/><use href="#cs" transform="translate(1592,2980) rotate(65)"/><use href="#cs" transform="translate(1463,3074) rotate(70)"/><use href="#cs" transform="translate(1554,3158) rotate(39)"/><use href="#cs" transform="translate(1186,2909) rotate(55)"/><use href="#cs" transform="translate(1407,2846) rotate(177)"/><use href="#cs" transform="translate(1413,2775) rotate(115)"/><use href="#cs" transform="translate(1568,3020) rotate(49)"/><use href="#cs" transform="translate(1553,3105) rotate(56)"/><use href="#cs" transform="translate(1391,2843) rotate(57)"/><use href="#cs" transform="translate(1143,3041) rotate(165)"/><use href="#cs" transform="translate(1383,3154) rotate(49)"/><use href="#cs" transform="translate(1328,3102) rotate(6)"/><use href="#cs" transform="translate(1275,3140) rotate(147)"/><use href="#cs" transform="translate(1513,2874) rotate(8)"/><use href="#cs" transform="translate(1443,3052) rotate(127)"/><use href="#cs" transform="translate(1204,2930) rotate(111)"/><use href="#cs" transform="translate(1531,2875) rotate(150)"/><use href="#cs" transform="translate(1509,3108) rotate(105)"/><use href="#cs" transform="translate(1557,2880) rotate(74)"/><use href="#cs" transform="translate(1187,3109) rotate(26)"/><use href="#cs" transform="translate(1516,2956) rotate(93)"/><use href="#cs" transform="translate(1178,2806) rotate(119)"/><use href="#cs" transform="translate(1471,2861) rotate(110)"/><use href="#cs" transform="translate(1622,3019) rotate(27)"/><use href="#cs" transform="translate(1240,3034) rotate(163)"/><use href="#cs" transform="translate(1344,3193) rotate(131)"/><use href="#cs" transform="translate(1507,2966) rotate(41)"/><use href="#cs" transform="translate(1498,3058) rotate(18)"/><use href="#cs" transform="translate(1520,3232) rotate(7)"/><use href="#cs" transform="translate(1160,2936) rotate(156)"/><use href="#cs" transform="translate(1451,2857) rotate(155)"/><use href="#cs" transform="translate(1394,2763) rotate(67)"/><use href="#cs" transform="translate(1597,2965) rotate(0)"/><use href="#cs" transform="translate(1523,3117) rotate(44)"/><use href="#cs" transform="translate(1352,2857) rotate(9)"/><use href="#cs" transform="translate(1215,3061) rotate(1)"/><use href="#cs" transform="translate(1398,3057) rotate(121)"/><use href="#cs" transform="translate(1324,3083) rotate(123)"/><use href="#cs" transform="translate(1272,3173) rotate(51)"/><use href="#cs" transform="translate(1537,3016) rotate(28)"/><use href="#cs" transform="translate(1437,3125) rotate(68)"/><use href="#cs" transform="translate(1238,3014) rotate(94)"/><use href="#cs" transform="translate(1572,2890) rotate(163)"/><use href="#cs" transform="translate(1540,3018) rotate(143)"/><use href="#cs" transform="translate(1584,2899) rotate(102)"/><use href="#cs" transform="translate(1244,3120) rotate(11)"/><use href="#cs" transform="translate(1532,2914) rotate(6)"/><use href="#cs" transform="translate(1267,2794) rotate(163)"/><use href="#cs" transform="translate(1478,2875) rotate(172)"/><use href="#cs" transform="translate(1582,2990) rotate(129)"/><use href="#cs" transform="translate(1275,3052) rotate(145)"/><use href="#cs" transform="translate(1275,3161) rotate(171)"/><use href="#cs" transform="translate(1605,2999) rotate(2)"/><use href="#cs" transform="translate(1476,3091) rotate(145)"/><use href="#cs" transform="translate(1539,3246) rotate(7)"/><use href="#cs" transform="translate(1174,2931) rotate(55)"/><use href="#cs" transform="translate(1431,2841) rotate(142)"/><use href="#cs" transform="translate(1415,2749) rotate(153)"/><use href="#cs" transform="translate(1594,2982) rotate(152)"/><use href="#cs" transform="translate(1580,3094) rotate(35)"/><use href="#cs" transform="translate(1389,2840) rotate(179)"/><use href="#cs" transform="translate(1184,3034) rotate(178)"/><use href="#cs" transform="translate(1385,3108) rotate(112)"/><use href="#cs" transform="translate(1349,3131) rotate(110)"/><use href="#cs" transform="translate(1292,3132) rotate(80)"/><use href="#cs" transform="translate(1497,2950) rotate(110)"/><use href="#cs" transform="translate(1406,3086) rotate(73)"/><use href="#cs" transform="translate(1267,2967) rotate(167)"/><use href="#cs" transform="translate(1518,2836) rotate(156)"/><use href="#cs" transform="translate(1532,3071) rotate(141)"/><use href="#cs" transform="translate(1577,2893) rotate(136)"/><use href="#cs" transform="translate(1211,3160) rotate(54)"/><use href="#cs" transform="translate(1540,2945) rotate(143)"/><use href="#cs" transform="translate(1237,2830) rotate(89)"/><use href="#cs" transform="translate(1445,2917) rotate(138)"/><use href="#cs" transform="translate(1676,3015) rotate(69)"/><use href="#cs" transform="translate(1277,3003) rotate(68)"/><use href="#cs" transform="translate(1331,3183) rotate(164)"/><use href="#cs" transform="translate(1574,2978) rotate(30)"/><use href="#cs" transform="translate(1422,3047) rotate(62)"/><use href="#cs" transform="translate(1523,3284) rotate(53)"/><use href="#cs" transform="translate(1249,2937) rotate(6)"/><use href="#cs" transform="translate(1418,2846) rotate(51)"/><use href="#cs" transform="translate(1477,2754) rotate(104)"/><use href="#cs" transform="translate(1559,3010) rotate(13)"/><use href="#cs" transform="translate(1579,3149) rotate(155)"/><use href="#cs" transform="translate(1403,2919) rotate(74)"/><use href="#cs" transform="translate(1176,3070) rotate(91)"/><use href="#cs" transform="translate(1370,3131) rotate(57)"/><use href="#cs" transform="translate(1352,3121) rotate(142)"/><use href="#cs" transform="translate(1285,3129) rotate(141)"/><use href="#cs" transform="translate(1538,2938) rotate(103)"/><use href="#cs" transform="translate(1415,3109) rotate(106)"/><use href="#cs" transform="translate(1290,2986) rotate(83)"/><use href="#cs" transform="translate(1571,2840) rotate(143)"/><use href="#cs" transform="translate(1503,3056) rotate(12)"/><use href="#cs" transform="translate(1575,2884) rotate(108)"/><use href="#cs" transform="translate(1198,3103) rotate(157)"/><use href="#cs" transform="translate(1525,2946) rotate(156)"/><use href="#cs" transform="translate(1226,2816) rotate(18)"/><use href="#cs" transform="translate(1482,2880) rotate(127)"/><use href="#cs" transform="translate(1600,2981) rotate(138)"/><use href="#cs" transform="translate(1300,3054) rotate(11)"/><use href="#cs" transform="translate(1342,3192) rotate(113)"/><use href="#cs" transform="translate(1584,2944) rotate(156)"/><use href="#cs" transform="translate(1495,3094) rotate(0)"/><use href="#cs" transform="translate(1587,3216) rotate(170)"/><use href="#cs" transform="translate(1205,2900) rotate(37)"/><use href="#cs" transform="translate(1427,2887) rotate(143)"/><use href="#cs" transform="translate(1451,2823) rotate(163)"/><use href="#cs" transform="translate(1595,3036) rotate(161)"/><use href="#cs" transform="translate(1509,3161) rotate(12)"/><use href="#cs" transform="translate(1405,2889) rotate(161)"/><use href="#cs" transform="translate(1164,3088) rotate(27)"/><use href="#cs" transform="translate(1373,3097) rotate(84)"/><use href="#cs" transform="translate(1349,3075) rotate(78)"/><use href="#cs" transform="translate(1293,3153) rotate(80)"/><use href="#cs" transform="translate(1490,2939) rotate(29)"/><use href="#cs" transform="translate(1377,3039) rotate(68)"/><use href="#cs" transform="translate(1280,3013) rotate(10)"/><use href="#cs" transform="translate(1600,2885) rotate(40)"/><use href="#cs" transform="translate(1576,3028) rotate(87)"/><use href="#cs" transform="translate(1575,2893) rotate(49)"/><use href="#cs" transform="translate(1225,3126) rotate(43)"/><use href="#cs" transform="translate(1586,2898) rotate(56)"/></g></g></g>
<rect x="98" y="2158" width="2" height="1086.5" fill="#d2ceca"/>
<rect x="98" y="2157" width="523" height="2" fill="#d2ceca"/>
<rect x="625" y="2160" width="521" height="2" fill="#d2ceca"/>
<rect x="1148" y="2155.5" width="513" height="2.5" fill="#d8d2d2"/>
<rect x="621" y="2158" width="4" height="1087" fill="#dcd8d8"/><rect x="622" y="2158" width="2" height="1087" fill="#efedec"/>
<rect x="1146" y="2158" width="2.5" height="1087" fill="#f6f4f2"/>
<rect x="98" y="2702" width="1563" height="3" fill="#f2f0ee"/>
<rect x="581" y="2674" width="22" height="4" fill="#15110f"/><text x="582" y="2670.5" style="font-size:5.4px;font-weight:bold;fill:#1e1a18;stroke:#1e1a18;stroke-width:0.6px">100 µm</text>
<rect x="1106" y="2674" width="22" height="4" fill="#15110f"/><text x="1107" y="2670.5" style="font-size:5.4px;font-weight:bold;fill:#1e1a18;stroke:#1e1a18;stroke-width:0.6px">100 µm</text>
<rect x="1621" y="2674" width="22" height="4" fill="#15110f"/><text x="1622" y="2670.5" style="font-size:5.4px;font-weight:bold;fill:#1e1a18;stroke:#1e1a18;stroke-width:0.6px">100 µm</text>
<rect x="581" y="3216.5" width="22" height="4" fill="#15110f"/><text x="582" y="3213" style="font-size:5.4px;font-weight:bold;fill:#1e1a18;stroke:#1e1a18;stroke-width:0.6px">100 µm</text>
<rect x="1106" y="3216.5" width="22" height="4" fill="#15110f"/><text x="1107" y="3213" style="font-size:5.4px;font-weight:bold;fill:#1e1a18;stroke:#1e1a18;stroke-width:0.6px">100 µm</text>
<rect x="1621" y="3216.5" width="22" height="4" fill="#15110f"/><text x="1622" y="3213" style="font-size:5.4px;font-weight:bold;fill:#1e1a18;stroke:#1e1a18;stroke-width:0.6px">100 µm</text>
<text transform="translate(17,2149.5) scale(0.955,1)" class="pl" style="font-size:76px">C</text>
<text x="313" y="2138.4" class="cl">No light</text>
<text x="846" y="2138.4" class="cl">+ light</text>
<text x="1297" y="2138.4" class="cl">Fer-1 + light</text>
<text transform="translate(76.3,2500.5) rotate(-90) scale(1.377,1)" text-anchor="middle" class="rl">CTL</text>
<text transform="translate(75.8,2935.75) rotate(-90) scale(1.345,1)" text-anchor="middle" class="rl">CDOM_200 ppm</text>
</svg>
</body></html>
